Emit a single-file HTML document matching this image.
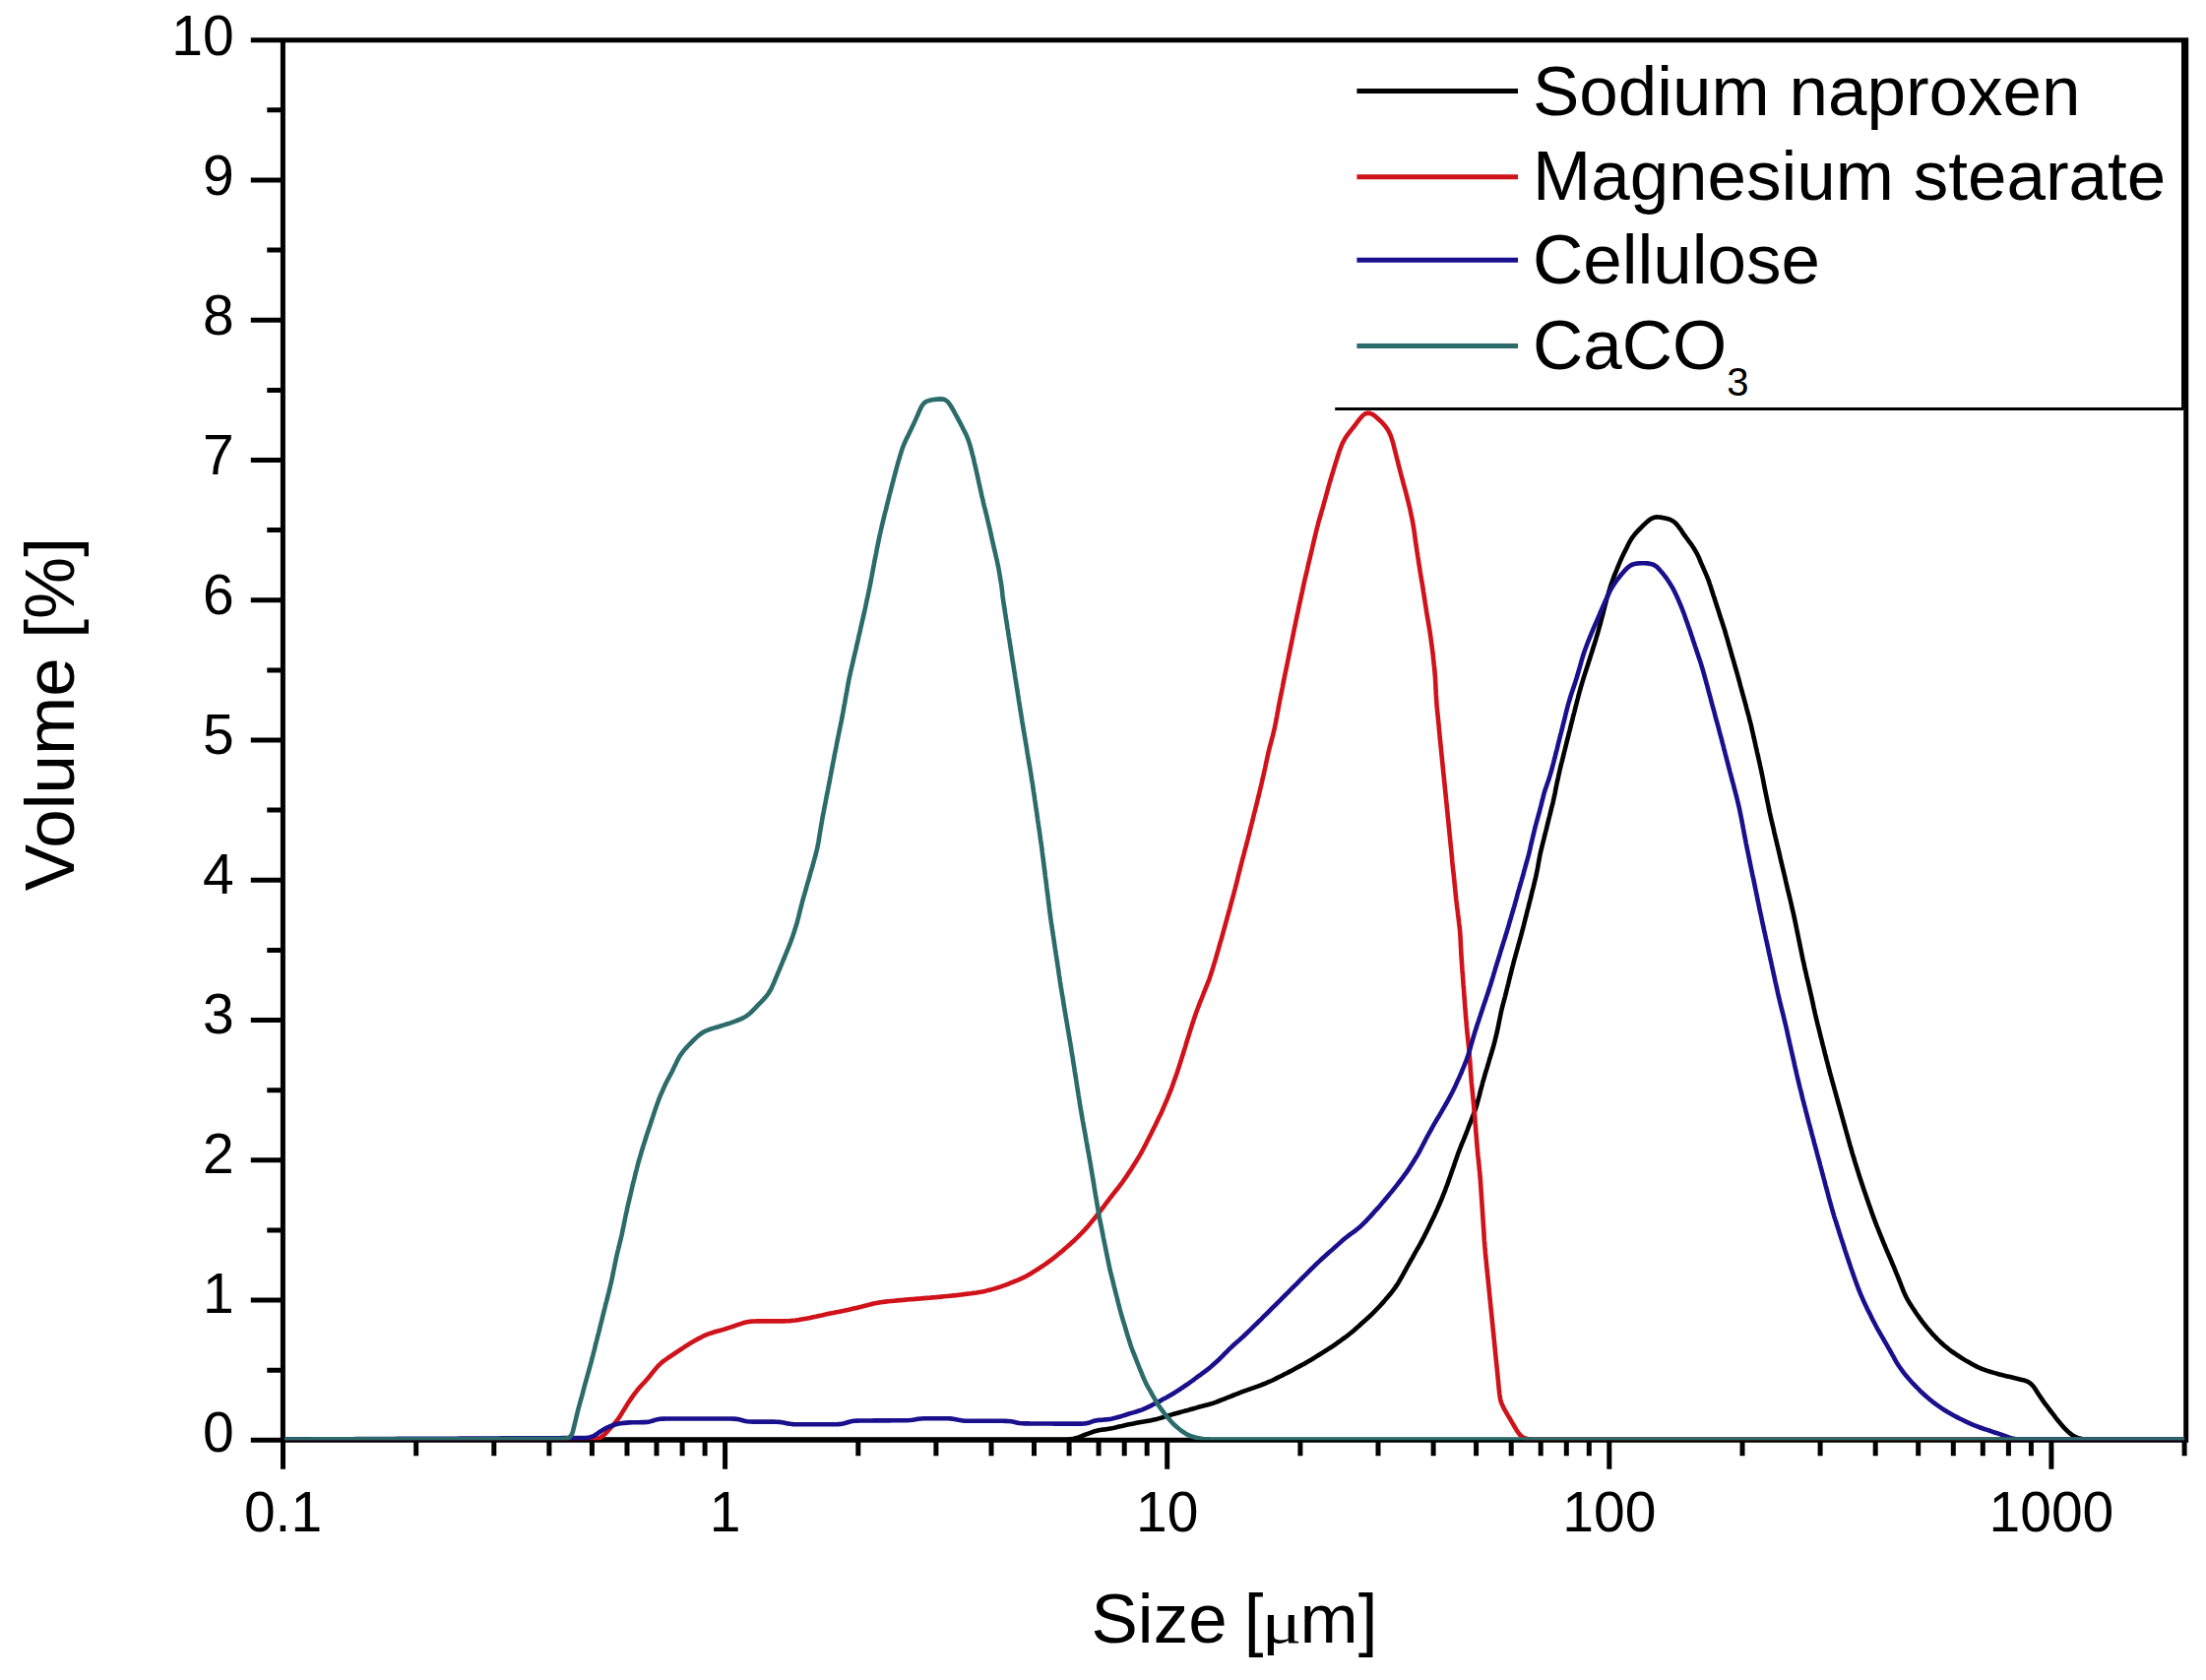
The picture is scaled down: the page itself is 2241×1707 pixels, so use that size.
<!DOCTYPE html><html><head><meta charset="utf-8"><title>Particle size distribution</title><style>html,body{margin:0;padding:0;background:#fff;overflow:hidden;width:2241px;height:1707px;}svg{display:block;}</style></head><body>
<svg width="2241" height="1707" viewBox="0 0 2241 1707">
<rect x="0" y="0" width="2241" height="1707" fill="#fff"/>
<defs><clipPath id="pa"><rect x="287.4" y="40.7" width="1933.3" height="1422.6"/></clipPath></defs>
<path d="M287.4,38.2V1465.7M284.9,1463.2H2223.2M284.9,40.7H2223.2M2220.7,38.2V1463.2M254.8,1463.3H287.4M254.8,1321.0H287.4M254.8,1178.8H287.4M254.8,1036.5H287.4M254.8,894.3H287.4M254.8,752.0H287.4M254.8,609.7H287.4M254.8,467.5H287.4M254.8,325.2H287.4M254.8,183.0H287.4M254.8,40.7H287.4M271.3,1392.2H287.4M271.3,1249.9H287.4M271.3,1107.7H287.4M271.3,965.4H287.4M271.3,823.1H287.4M271.3,680.9H287.4M271.3,538.6H287.4M271.3,396.4H287.4M271.3,254.1H287.4M271.3,111.8H287.4M287.5,1463.2V1492.8M422.7,1463.2V1479.2M501.8,1463.2V1479.2M557.9,1463.2V1479.2M601.4,1463.2V1479.2M637.0,1463.2V1479.2M667.0,1463.2V1479.2M693.1,1463.2V1479.2M716.1,1463.2V1479.2M736.6,1463.2V1492.8M871.8,1463.2V1479.2M950.9,1463.2V1479.2M1007.0,1463.2V1479.2M1050.5,1463.2V1479.2M1086.1,1463.2V1479.2M1116.1,1463.2V1479.2M1142.2,1463.2V1479.2M1165.2,1463.2V1479.2M1185.7,1463.2V1492.8M1320.9,1463.2V1479.2M1400.0,1463.2V1479.2M1456.1,1463.2V1479.2M1499.6,1463.2V1479.2M1535.2,1463.2V1479.2M1565.2,1463.2V1479.2M1591.3,1463.2V1479.2M1614.3,1463.2V1479.2M1634.8,1463.2V1492.8M1770.0,1463.2V1479.2M1849.1,1463.2V1479.2M1905.2,1463.2V1479.2M1948.7,1463.2V1479.2M1984.3,1463.2V1479.2M2014.3,1463.2V1479.2M2040.4,1463.2V1479.2M2063.4,1463.2V1479.2M2083.9,1463.2V1492.8M2219.1,1463.2V1479.2" stroke="#000" stroke-width="5.0" fill="none" stroke-linecap="butt"/>
<g clip-path="url(#pa)" fill="none" stroke-width="4.6" stroke-linejoin="round" stroke-linecap="butt">
<polyline points="289.0,1462.5 290.8,1462.5 293.3,1462.5 296.1,1462.5 299.0,1462.5 302.0,1462.5 305.0,1462.5 308.0,1462.5 311.0,1462.5 314.0,1462.5 317.0,1462.5 320.0,1462.5 323.0,1462.5 326.0,1462.5 329.0,1462.5 332.0,1462.5 335.0,1462.5 338.0,1462.5 341.0,1462.5 344.0,1462.5 347.0,1462.5 350.0,1462.5 353.0,1462.5 356.0,1462.5 359.0,1462.5 362.0,1462.5 365.0,1462.5 368.0,1462.5 371.0,1462.5 374.0,1462.5 377.0,1462.5 380.0,1462.5 383.0,1462.5 386.0,1462.5 389.0,1462.5 392.0,1462.5 395.0,1462.5 398.0,1462.5 401.0,1462.5 404.0,1462.5 407.0,1462.5 410.0,1462.5 413.0,1462.5 416.0,1462.5 419.0,1462.5 422.0,1462.5 425.0,1462.5 428.0,1462.5 431.0,1462.5 434.0,1462.5 437.0,1462.5 440.0,1462.5 443.0,1462.5 446.0,1462.5 449.0,1462.5 452.0,1462.5 455.0,1462.5 458.0,1462.5 461.0,1462.5 464.0,1462.5 467.0,1462.5 470.0,1462.5 473.0,1462.5 476.0,1462.5 479.0,1462.5 482.0,1462.5 485.0,1462.5 488.0,1462.5 491.0,1462.5 494.0,1462.5 497.0,1462.5 500.0,1462.5 503.0,1462.5 506.0,1462.5 509.0,1462.5 512.0,1462.5 515.0,1462.5 518.0,1462.5 521.0,1462.5 524.0,1462.5 527.0,1462.5 530.0,1462.5 533.0,1462.5 536.0,1462.5 539.0,1462.5 542.0,1462.5 545.0,1462.5 548.0,1462.5 551.0,1462.5 554.0,1462.5 557.0,1462.5 560.0,1462.5 563.0,1462.5 566.0,1462.5 569.0,1462.5 572.0,1462.5 575.0,1462.5 578.0,1462.5 581.0,1462.5 584.0,1462.5 587.0,1462.5 590.0,1462.5 593.0,1462.5 596.0,1462.5 599.0,1462.5 602.0,1462.5 605.0,1462.5 608.0,1462.5 611.0,1462.5 614.0,1462.5 617.0,1462.5 620.0,1462.5 623.0,1462.5 626.0,1462.5 629.0,1462.5 632.0,1462.5 635.0,1462.5 638.0,1462.5 641.0,1462.5 644.0,1462.5 647.0,1462.5 650.0,1462.5 653.0,1462.5 656.0,1462.5 659.0,1462.5 662.0,1462.5 665.0,1462.5 668.0,1462.5 671.0,1462.5 674.0,1462.5 677.0,1462.5 680.0,1462.5 683.0,1462.5 686.0,1462.5 689.0,1462.5 692.0,1462.5 695.0,1462.5 698.0,1462.5 701.0,1462.5 704.0,1462.5 707.0,1462.5 710.0,1462.5 713.0,1462.5 716.0,1462.5 719.0,1462.5 722.0,1462.5 725.0,1462.5 728.0,1462.5 731.0,1462.5 734.0,1462.5 737.0,1462.5 740.0,1462.5 743.0,1462.5 746.0,1462.5 749.0,1462.5 752.0,1462.5 755.0,1462.5 758.0,1462.5 761.0,1462.5 764.0,1462.5 767.0,1462.5 770.0,1462.5 773.0,1462.5 776.0,1462.5 779.0,1462.5 782.0,1462.5 785.0,1462.5 788.0,1462.5 791.0,1462.5 794.0,1462.5 797.0,1462.5 800.0,1462.5 803.0,1462.5 806.0,1462.5 809.0,1462.5 812.0,1462.5 815.0,1462.5 818.0,1462.5 821.0,1462.5 824.0,1462.5 827.0,1462.5 830.0,1462.5 833.0,1462.5 836.0,1462.5 839.0,1462.5 842.0,1462.5 845.0,1462.5 848.0,1462.5 851.0,1462.5 854.0,1462.5 857.0,1462.5 860.0,1462.5 863.0,1462.5 866.0,1462.5 869.0,1462.5 872.0,1462.5 875.0,1462.5 878.0,1462.5 881.0,1462.5 884.0,1462.5 887.0,1462.5 890.0,1462.5 893.0,1462.5 896.0,1462.5 899.0,1462.5 902.0,1462.5 905.0,1462.5 908.0,1462.5 911.0,1462.5 914.0,1462.5 917.0,1462.5 920.0,1462.5 923.0,1462.5 926.0,1462.5 929.0,1462.5 932.0,1462.5 935.0,1462.5 938.0,1462.5 941.0,1462.5 944.0,1462.5 947.0,1462.5 950.0,1462.5 953.0,1462.5 956.0,1462.5 959.0,1462.5 962.0,1462.5 965.0,1462.5 968.0,1462.5 971.0,1462.5 974.0,1462.5 977.0,1462.5 980.0,1462.5 983.0,1462.5 986.0,1462.5 989.0,1462.5 992.0,1462.5 995.0,1462.5 998.0,1462.5 1001.0,1462.5 1004.0,1462.5 1007.0,1462.5 1010.0,1462.5 1013.0,1462.5 1016.0,1462.5 1019.0,1462.5 1022.0,1462.5 1025.0,1462.5 1028.0,1462.5 1031.0,1462.5 1034.0,1462.5 1037.0,1462.5 1040.0,1462.5 1043.0,1462.5 1046.0,1462.5 1049.0,1462.5 1052.0,1462.5 1055.0,1462.5 1058.0,1462.5 1061.0,1462.5 1064.0,1462.5 1067.0,1462.5 1070.0,1462.5 1073.0,1462.5 1076.0,1462.5 1079.0,1462.5 1082.0,1462.5 1085.0,1462.4 1087.9,1462.2 1090.8,1461.8 1093.7,1461.1 1096.5,1460.2 1099.2,1459.0 1102.0,1457.9 1104.8,1456.8 1107.6,1455.8 1110.4,1454.8 1113.3,1454.0 1116.2,1453.3 1119.1,1452.8 1122.1,1452.4 1125.1,1451.9 1128.0,1451.4 1131.0,1450.9 1133.9,1450.3 1136.8,1449.6 1139.7,1449.0 1142.7,1448.3 1145.6,1447.6 1148.5,1447.0 1151.5,1446.4 1154.4,1445.8 1157.3,1445.2 1160.3,1444.7 1163.3,1444.2 1166.2,1443.7 1169.2,1443.2 1172.1,1442.6 1175.0,1441.9 1177.9,1441.1 1180.8,1440.3 1183.7,1439.4 1186.5,1438.5 1189.4,1437.6 1192.3,1436.8 1195.1,1436.0 1198.0,1435.2 1200.9,1434.4 1203.8,1433.6 1206.7,1432.9 1209.6,1432.0 1212.5,1431.2 1215.4,1430.4 1218.3,1429.5 1221.2,1428.8 1224.1,1428.0 1227.0,1427.3 1229.8,1426.5 1232.7,1425.6 1235.5,1424.6 1238.3,1423.5 1241.1,1422.4 1243.9,1421.3 1246.7,1420.2 1249.5,1419.1 1252.2,1418.0 1255.0,1416.9 1257.8,1415.8 1260.6,1414.7 1263.4,1413.7 1266.3,1412.7 1269.1,1411.7 1271.9,1410.7 1274.8,1409.7 1277.6,1408.7 1280.4,1407.6 1283.2,1406.5 1286.0,1405.4 1288.7,1404.2 1291.5,1403.0 1294.2,1401.7 1296.8,1400.4 1299.5,1399.0 1302.2,1397.7 1304.9,1396.3 1307.6,1395.0 1310.2,1393.6 1312.9,1392.2 1315.5,1390.8 1318.2,1389.3 1320.8,1387.9 1323.4,1386.5 1326.1,1385.1 1328.7,1383.6 1331.3,1382.1 1333.8,1380.5 1336.4,1378.9 1338.9,1377.3 1341.4,1375.7 1344.0,1374.1 1346.5,1372.5 1349.1,1370.9 1351.6,1369.3 1354.1,1367.7 1356.6,1366.0 1359.0,1364.2 1361.5,1362.5 1363.9,1360.7 1366.3,1359.0 1368.7,1357.2 1371.1,1355.3 1373.4,1353.4 1375.7,1351.5 1377.9,1349.5 1380.2,1347.6 1382.4,1345.5 1384.6,1343.5 1386.9,1341.5 1389.1,1339.5 1391.3,1337.5 1393.5,1335.4 1395.6,1333.3 1397.7,1331.2 1399.8,1329.0 1401.9,1326.8 1403.9,1324.6 1405.9,1322.4 1407.8,1320.1 1409.8,1317.8 1411.7,1315.5 1413.6,1313.2 1415.4,1310.8 1417.2,1308.4 1418.9,1305.9 1420.5,1303.4 1422.0,1300.8 1423.5,1298.3 1425.0,1295.6 1426.4,1293.0 1427.9,1290.4 1429.3,1287.7 1430.8,1285.1 1432.2,1282.5 1433.7,1279.9 1435.2,1277.3 1436.6,1274.7 1438.1,1272.0 1439.6,1269.4 1441.1,1266.8 1442.6,1264.2 1444.0,1261.6 1445.4,1258.9 1446.8,1256.3 1448.1,1253.6 1449.5,1250.9 1450.8,1248.2 1452.1,1245.5 1453.4,1242.8 1454.7,1240.1 1456.0,1237.4 1457.3,1234.7 1458.5,1232.0 1459.8,1229.2 1461.0,1226.5 1462.2,1223.8 1463.4,1221.0 1464.6,1218.2 1465.7,1215.4 1466.8,1212.7 1467.9,1209.9 1468.9,1207.1 1470.0,1204.2 1471.0,1201.4 1472.0,1198.6 1473.0,1195.8 1474.0,1192.9 1475.0,1190.1 1476.0,1187.3 1477.0,1184.4 1477.9,1181.6 1478.9,1178.8 1479.9,1175.9 1480.9,1173.1 1481.9,1170.3 1483.0,1167.5 1484.1,1164.7 1485.2,1161.9 1486.4,1159.1 1487.5,1156.4 1488.6,1153.6 1489.7,1150.8 1490.8,1148.0 1491.8,1145.2 1492.9,1142.4 1494.0,1139.6 1495.1,1136.8 1496.2,1134.0 1497.3,1131.2 1498.4,1128.4 1499.4,1125.6 1500.2,1122.7 1501.0,1119.9 1501.8,1117.0 1502.6,1114.0 1503.3,1111.1 1504.0,1108.2 1504.8,1105.3 1505.6,1102.4 1506.3,1099.5 1507.2,1096.7 1508.0,1093.8 1508.8,1090.9 1509.7,1088.0 1510.6,1085.1 1511.4,1082.3 1512.3,1079.4 1513.1,1076.5 1514.0,1073.6 1514.9,1070.8 1515.7,1067.9 1516.6,1065.0 1517.4,1062.1 1518.2,1059.2 1518.9,1056.3 1519.6,1053.4 1520.3,1050.5 1521.0,1047.6 1521.6,1044.7 1522.2,1041.7 1522.8,1038.8 1523.4,1035.8 1524.0,1032.9 1524.6,1029.9 1525.2,1027.0 1525.9,1024.1 1526.7,1021.2 1527.4,1018.3 1528.2,1015.4 1529.0,1012.5 1529.7,1009.6 1530.4,1006.7 1531.1,1003.8 1531.9,1000.9 1532.6,997.9 1533.3,995.0 1534.0,992.1 1534.8,989.2 1535.5,986.3 1536.2,983.4 1537.0,980.5 1537.7,977.6 1538.5,974.7 1539.3,971.8 1540.1,968.9 1540.9,966.0 1541.7,963.1 1542.5,960.2 1543.3,957.3 1544.1,954.4 1544.9,951.6 1545.7,948.7 1546.4,945.8 1547.2,942.9 1548.0,939.9 1548.7,937.0 1549.4,934.1 1550.2,931.2 1550.9,928.3 1551.6,925.4 1552.4,922.5 1553.1,919.6 1553.8,916.7 1554.6,913.8 1555.3,910.9 1556.0,907.9 1556.7,905.0 1557.5,902.1 1558.2,899.2 1558.9,896.3 1559.6,893.4 1560.3,890.5 1560.9,887.5 1561.5,884.6 1562.1,881.7 1562.6,878.7 1563.1,875.7 1563.7,872.8 1564.2,869.8 1564.8,866.9 1565.5,864.0 1566.2,861.1 1566.9,858.2 1567.6,855.3 1568.4,852.3 1569.1,849.4 1569.8,846.5 1570.6,843.6 1571.3,840.7 1572.0,837.8 1572.7,834.9 1573.4,832.0 1574.2,829.0 1574.9,826.1 1575.6,823.2 1576.3,820.3 1577.1,817.4 1577.8,814.5 1578.4,811.6 1579.1,808.6 1579.7,805.7 1580.2,802.8 1580.8,799.8 1581.4,796.9 1582.0,793.9 1582.7,791.0 1583.3,788.1 1584.0,785.1 1584.6,782.2 1585.3,779.3 1586.0,776.4 1586.8,773.5 1587.5,770.6 1588.2,767.7 1588.9,764.7 1589.7,761.8 1590.4,758.9 1591.1,756.0 1591.8,753.1 1592.6,750.2 1593.3,747.3 1594.0,744.4 1594.8,741.5 1595.5,738.6 1596.2,735.6 1597.0,732.7 1597.7,729.8 1598.4,726.9 1599.2,724.0 1599.9,721.1 1600.6,718.2 1601.4,715.3 1602.1,712.4 1602.9,709.5 1603.6,706.6 1604.4,703.7 1605.2,700.8 1606.0,697.9 1606.9,695.0 1607.7,692.1 1608.6,689.3 1609.5,686.4 1610.4,683.6 1611.3,680.7 1612.3,677.8 1613.2,675.0 1614.1,672.1 1615.0,669.3 1615.9,666.4 1616.8,663.6 1617.7,660.7 1618.6,657.8 1619.5,655.0 1620.4,652.1 1621.3,649.2 1622.1,646.4 1623.0,643.5 1623.8,640.6 1624.6,637.7 1625.4,634.8 1626.2,631.9 1626.9,629.0 1627.7,626.1 1628.5,623.2 1629.2,620.3 1629.9,617.4 1630.7,614.5 1631.4,611.6 1632.2,608.7 1633.0,605.8 1633.9,602.9 1634.7,600.1 1635.6,597.2 1636.5,594.3 1637.5,591.5 1638.5,588.7 1639.5,585.9 1640.6,583.1 1641.8,580.3 1642.9,577.5 1644.1,574.7 1645.2,572.0 1646.4,569.2 1647.6,566.5 1648.9,563.8 1650.2,561.1 1651.6,558.4 1652.9,555.7 1654.2,553.0 1655.6,550.4 1657.1,547.8 1658.8,545.4 1660.6,543.1 1662.6,540.8 1664.6,538.6 1666.7,536.5 1668.8,534.3 1671.0,532.3 1673.2,530.2 1675.4,528.4 1677.7,526.8 1680.2,525.8 1682.9,525.4 1685.7,525.5 1688.6,525.9 1691.5,526.5 1694.4,527.2 1697.1,528.2 1699.6,529.5 1701.8,531.2 1703.8,533.3 1705.6,535.7 1707.4,538.1 1709.0,540.6 1710.7,543.1 1712.5,545.5 1714.2,547.9 1716.0,550.3 1717.8,552.7 1719.5,555.2 1721.1,557.7 1722.6,560.3 1724.1,562.9 1725.4,565.6 1726.6,568.3 1727.7,571.1 1728.9,573.9 1730.1,576.6 1731.3,579.4 1732.5,582.1 1733.7,584.9 1734.8,587.6 1735.9,590.4 1736.8,593.3 1737.8,596.1 1738.7,599.0 1739.6,601.8 1740.5,604.7 1741.5,607.5 1742.4,610.4 1743.3,613.2 1744.2,616.1 1745.2,619.0 1746.1,621.8 1747.0,624.7 1747.9,627.5 1748.9,630.4 1749.8,633.2 1750.7,636.1 1751.6,638.9 1752.5,641.8 1753.3,644.7 1754.2,647.6 1755.0,650.5 1755.8,653.3 1756.6,656.2 1757.5,659.1 1758.3,662.0 1759.1,664.9 1759.9,667.8 1760.8,670.6 1761.6,673.5 1762.4,676.4 1763.2,679.3 1764.1,682.2 1764.9,685.1 1765.7,688.0 1766.5,690.9 1767.3,693.7 1768.0,696.6 1768.8,699.5 1769.6,702.4 1770.4,705.3 1771.2,708.2 1772.0,711.1 1772.8,714.0 1773.6,716.9 1774.3,719.8 1775.1,722.7 1775.9,725.6 1776.7,728.5 1777.4,731.4 1778.2,734.3 1778.9,737.2 1779.5,740.1 1780.2,743.1 1780.9,746.0 1781.5,748.9 1782.2,751.8 1782.9,754.8 1783.5,757.7 1784.2,760.6 1784.8,763.5 1785.5,766.5 1786.2,769.4 1786.8,772.3 1787.5,775.3 1788.1,778.2 1788.8,781.1 1789.4,784.1 1790.0,787.0 1790.6,789.9 1791.2,792.9 1791.7,795.8 1792.3,798.8 1792.9,801.7 1793.5,804.6 1794.1,807.6 1794.7,810.5 1795.3,813.5 1795.9,816.4 1796.5,819.3 1797.1,822.3 1797.7,825.2 1798.4,828.1 1799.0,831.1 1799.7,834.0 1800.4,836.9 1801.1,839.8 1801.8,842.8 1802.4,845.7 1803.1,848.6 1803.8,851.5 1804.5,854.4 1805.2,857.4 1805.9,860.3 1806.6,863.2 1807.3,866.1 1808.0,869.0 1808.6,872.0 1809.3,874.9 1810.0,877.8 1810.7,880.7 1811.4,883.6 1812.1,886.6 1812.8,889.5 1813.5,892.4 1814.1,895.3 1814.8,898.2 1815.5,901.2 1816.2,904.1 1816.9,907.0 1817.6,909.9 1818.3,912.8 1819.0,915.8 1819.7,918.7 1820.3,921.6 1821.0,924.5 1821.7,927.4 1822.3,930.4 1823.0,933.3 1823.6,936.2 1824.2,939.2 1824.8,942.1 1825.4,945.0 1826.0,948.0 1826.6,950.9 1827.2,953.9 1827.8,956.8 1828.4,959.7 1829.0,962.7 1829.6,965.6 1830.2,968.6 1830.8,971.5 1831.4,974.4 1832.1,977.4 1832.7,980.3 1833.3,983.2 1834.0,986.2 1834.7,989.1 1835.3,992.0 1836.0,994.9 1836.7,997.8 1837.4,1000.8 1838.1,1003.7 1838.7,1006.6 1839.4,1009.5 1840.1,1012.5 1840.7,1015.4 1841.4,1018.3 1842.0,1021.3 1842.6,1024.2 1843.3,1027.1 1843.9,1030.0 1844.6,1033.0 1845.3,1035.9 1846.0,1038.8 1846.7,1041.7 1847.5,1044.6 1848.2,1047.5 1848.9,1050.4 1849.6,1053.4 1850.4,1056.3 1851.1,1059.2 1851.8,1062.1 1852.6,1065.0 1853.3,1067.9 1854.0,1070.8 1854.8,1073.7 1855.5,1076.6 1856.3,1079.5 1857.0,1082.4 1857.8,1085.3 1858.5,1088.2 1859.3,1091.1 1860.1,1094.0 1860.9,1096.9 1861.7,1099.8 1862.5,1102.7 1863.3,1105.6 1864.1,1108.5 1864.9,1111.4 1865.7,1114.3 1866.5,1117.2 1867.3,1120.1 1868.1,1122.9 1868.9,1125.8 1869.7,1128.7 1870.5,1131.6 1871.3,1134.5 1872.1,1137.4 1872.9,1140.3 1873.7,1143.2 1874.5,1146.1 1875.3,1149.0 1876.1,1151.9 1876.9,1154.7 1877.7,1157.6 1878.5,1160.5 1879.3,1163.4 1880.2,1166.3 1881.0,1169.2 1881.8,1172.1 1882.7,1174.9 1883.6,1177.8 1884.4,1180.7 1885.3,1183.5 1886.2,1186.4 1887.1,1189.3 1888.0,1192.1 1888.9,1195.0 1889.8,1197.8 1890.8,1200.7 1891.7,1203.5 1892.7,1206.4 1893.6,1209.2 1894.6,1212.1 1895.6,1214.9 1896.5,1217.7 1897.5,1220.6 1898.5,1223.4 1899.5,1226.2 1900.5,1229.1 1901.5,1231.9 1902.5,1234.7 1903.5,1237.5 1904.6,1240.4 1905.6,1243.2 1906.7,1246.0 1907.8,1248.7 1908.9,1251.5 1910.1,1254.3 1911.2,1257.1 1912.3,1259.9 1913.4,1262.7 1914.6,1265.4 1915.7,1268.2 1916.9,1271.0 1918.1,1273.7 1919.3,1276.5 1920.5,1279.2 1921.6,1282.0 1922.8,1284.8 1924.0,1287.5 1925.1,1290.3 1926.2,1293.1 1927.4,1295.9 1928.5,1298.6 1929.6,1301.4 1930.7,1304.2 1931.8,1307.0 1932.9,1309.8 1934.0,1312.6 1935.2,1315.3 1936.5,1318.0 1937.9,1320.6 1939.4,1323.2 1941.0,1325.7 1942.6,1328.3 1944.3,1330.8 1945.9,1333.3 1947.6,1335.8 1949.3,1338.2 1951.1,1340.7 1952.9,1343.1 1954.7,1345.4 1956.6,1347.8 1958.5,1350.1 1960.5,1352.3 1962.4,1354.6 1964.5,1356.8 1966.5,1359.0 1968.6,1361.1 1970.8,1363.2 1973.0,1365.2 1975.2,1367.2 1977.5,1369.1 1979.9,1371.0 1982.3,1372.8 1984.7,1374.5 1987.2,1376.2 1989.7,1377.8 1992.2,1379.5 1994.8,1381.1 1997.3,1382.6 1999.9,1384.1 2002.5,1385.6 2005.2,1387.0 2007.8,1388.4 2010.5,1389.7 2013.3,1390.8 2016.1,1391.9 2018.9,1392.9 2021.8,1393.8 2024.6,1394.6 2027.5,1395.4 2030.4,1396.2 2033.3,1396.9 2036.3,1397.7 2039.2,1398.4 2042.1,1399.1 2045.0,1399.8 2047.9,1400.5 2050.8,1401.2 2053.7,1401.9 2056.6,1402.6 2059.3,1403.6 2061.8,1405.0 2063.9,1406.8 2065.9,1409.0 2067.6,1411.4 2069.2,1413.9 2070.8,1416.4 2072.4,1418.9 2074.1,1421.4 2075.8,1423.8 2077.6,1426.3 2079.4,1428.7 2081.2,1431.1 2083.0,1433.5 2084.8,1435.9 2086.6,1438.2 2088.4,1440.6 2090.3,1443.0 2092.2,1445.3 2094.1,1447.6 2096.1,1449.9 2098.1,1452.0 2100.3,1454.1 2102.5,1456.1 2104.8,1457.9 2107.3,1459.5 2109.9,1460.7 2112.7,1461.6 2115.6,1462.2 2118.5,1462.4 2121.5,1462.5 2124.5,1462.5 2127.5,1462.5 2130.5,1462.5 2133.5,1462.5 2136.5,1462.5 2139.5,1462.5 2142.5,1462.5 2145.5,1462.5 2148.5,1462.5 2151.5,1462.5 2154.5,1462.5 2157.5,1462.5 2160.5,1462.5 2163.5,1462.5 2166.5,1462.5 2169.5,1462.5 2172.5,1462.5 2175.5,1462.5 2178.5,1462.5 2181.5,1462.5 2184.5,1462.5 2187.5,1462.5 2190.5,1462.5 2193.5,1462.5 2196.5,1462.5 2199.5,1462.5 2202.5,1462.5 2205.5,1462.5 2208.5,1462.5 2211.4,1462.5 2214.3,1462.5 2216.8,1462.5 2218.7,1462.5 2219.2,1462.5" stroke="#000000"/>
<polyline points="289.0,1462.5 290.8,1462.5 293.3,1462.5 296.1,1462.5 299.0,1462.5 302.0,1462.5 305.0,1462.5 308.0,1462.5 311.0,1462.5 314.0,1462.5 317.0,1462.5 320.0,1462.5 323.0,1462.5 326.0,1462.5 329.0,1462.5 332.0,1462.5 335.0,1462.5 338.0,1462.5 341.0,1462.5 344.0,1462.5 347.0,1462.5 350.0,1462.5 353.0,1462.5 356.0,1462.5 359.0,1462.5 362.0,1462.5 365.0,1462.5 368.0,1462.5 371.0,1462.5 374.0,1462.5 377.0,1462.5 380.0,1462.5 383.0,1462.5 386.0,1462.5 389.0,1462.5 392.0,1462.5 395.0,1462.5 398.0,1462.5 401.0,1462.5 404.0,1462.5 407.0,1462.5 410.0,1462.5 413.0,1462.5 416.0,1462.5 419.0,1462.5 422.0,1462.5 425.0,1462.5 428.0,1462.5 431.0,1462.5 434.0,1462.5 437.0,1462.5 440.0,1462.5 443.0,1462.5 446.0,1462.5 449.0,1462.5 452.0,1462.5 455.0,1462.5 458.0,1462.5 461.0,1462.5 464.0,1462.5 467.0,1462.5 470.0,1462.5 473.0,1462.5 476.0,1462.5 479.0,1462.5 482.0,1462.5 485.0,1462.5 488.0,1462.5 491.0,1462.5 494.0,1462.5 497.0,1462.5 500.0,1462.5 503.0,1462.5 506.0,1462.5 509.0,1462.5 512.0,1462.5 515.0,1462.5 518.0,1462.5 521.0,1462.5 524.0,1462.5 527.0,1462.5 530.0,1462.5 533.0,1462.5 536.0,1462.5 539.0,1462.5 542.0,1462.5 545.0,1462.5 548.0,1462.5 551.0,1462.5 554.0,1462.5 557.0,1462.5 560.0,1462.5 563.0,1462.5 566.0,1462.5 569.0,1462.5 572.0,1462.5 575.0,1462.5 578.0,1462.5 581.0,1462.5 584.0,1462.5 587.0,1462.5 590.0,1462.5 593.0,1462.5 596.0,1462.5 599.0,1462.5 602.0,1462.4 604.9,1462.2 607.6,1461.6 610.1,1460.6 612.4,1459.0 614.5,1457.1 616.6,1454.9 618.6,1452.7 620.6,1450.5 622.6,1448.2 624.5,1446.0 626.4,1443.7 628.2,1441.3 629.9,1438.9 631.5,1436.3 633.0,1433.7 634.6,1431.2 636.2,1428.6 637.8,1426.1 639.4,1423.6 641.1,1421.1 642.8,1418.7 644.6,1416.2 646.4,1413.8 648.2,1411.5 650.2,1409.2 652.2,1407.0 654.3,1404.8 656.3,1402.6 658.2,1400.4 660.2,1398.0 662.0,1395.7 663.9,1393.4 665.8,1391.0 667.8,1388.8 669.8,1386.6 672.0,1384.6 674.3,1382.8 676.8,1381.0 679.2,1379.3 681.7,1377.7 684.2,1376.0 686.7,1374.3 689.2,1372.7 691.7,1371.0 694.2,1369.4 696.7,1367.7 699.2,1366.1 701.8,1364.5 704.4,1363.0 707.0,1361.5 709.6,1360.1 712.3,1358.7 714.9,1357.3 717.7,1356.1 720.4,1355.1 723.3,1354.2 726.2,1353.3 729.0,1352.5 731.9,1351.7 734.8,1350.9 737.7,1350.0 740.5,1349.1 743.4,1348.1 746.2,1347.2 749.1,1346.2 751.9,1345.3 754.7,1344.3 757.6,1343.6 760.5,1343.0 763.5,1342.6 766.4,1342.5 769.4,1342.4 772.4,1342.4 775.4,1342.4 778.4,1342.4 781.4,1342.4 784.4,1342.4 787.4,1342.4 790.4,1342.4 793.4,1342.4 796.4,1342.4 799.4,1342.3 802.4,1342.1 805.4,1341.8 808.4,1341.5 811.3,1341.1 814.3,1340.6 817.2,1340.1 820.2,1339.6 823.1,1339.0 826.1,1338.3 829.0,1337.7 831.9,1337.0 834.8,1336.4 837.8,1335.7 840.7,1335.1 843.6,1334.5 846.6,1333.9 849.5,1333.3 852.5,1332.8 855.4,1332.2 858.4,1331.6 861.3,1330.9 864.2,1330.3 867.1,1329.6 870.1,1328.9 873.0,1328.2 875.9,1327.5 878.8,1326.7 881.7,1326.0 884.6,1325.3 887.5,1324.6 890.4,1324.0 893.4,1323.4 896.4,1323.0 899.3,1322.6 902.3,1322.3 905.3,1322.0 908.3,1321.7 911.3,1321.4 914.3,1321.1 917.2,1320.9 920.2,1320.6 923.2,1320.3 926.2,1320.1 929.2,1319.9 932.2,1319.6 935.2,1319.4 938.2,1319.1 941.2,1318.9 944.1,1318.7 947.1,1318.4 950.1,1318.2 953.1,1317.9 956.1,1317.6 959.1,1317.3 962.1,1317.0 965.1,1316.7 968.0,1316.4 971.0,1316.1 974.0,1315.7 977.0,1315.4 980.0,1315.0 982.9,1314.6 985.9,1314.3 988.9,1313.9 991.9,1313.5 994.8,1313.0 997.8,1312.5 1000.7,1311.9 1003.6,1311.1 1006.5,1310.4 1009.4,1309.6 1012.3,1308.8 1015.1,1307.9 1018.0,1306.9 1020.8,1305.9 1023.6,1304.8 1026.4,1303.7 1029.1,1302.6 1031.9,1301.5 1034.7,1300.3 1037.4,1299.1 1040.2,1297.9 1042.8,1296.5 1045.4,1295.0 1048.0,1293.5 1050.5,1291.9 1053.1,1290.3 1055.6,1288.7 1058.1,1287.0 1060.6,1285.4 1063.1,1283.7 1065.5,1281.9 1067.9,1280.1 1070.3,1278.3 1072.6,1276.4 1074.9,1274.5 1077.3,1272.6 1079.6,1270.7 1081.8,1268.7 1084.1,1266.8 1086.4,1264.8 1088.6,1262.8 1090.8,1260.8 1093.0,1258.7 1095.1,1256.6 1097.2,1254.5 1099.3,1252.3 1101.4,1250.1 1103.4,1247.9 1105.4,1245.7 1107.3,1243.4 1109.2,1241.1 1111.2,1238.8 1113.1,1236.5 1114.9,1234.1 1116.8,1231.8 1118.6,1229.4 1120.4,1227.0 1122.2,1224.6 1124.0,1222.2 1125.8,1219.8 1127.6,1217.4 1129.5,1215.0 1131.3,1212.7 1133.2,1210.3 1135.0,1208.0 1136.9,1205.6 1138.7,1203.2 1140.5,1200.8 1142.2,1198.3 1143.9,1195.9 1145.5,1193.4 1147.2,1190.9 1148.9,1188.4 1150.5,1185.8 1152.1,1183.3 1153.7,1180.8 1155.2,1178.2 1156.8,1175.6 1158.3,1173.1 1159.8,1170.5 1161.2,1167.8 1162.6,1165.2 1164.0,1162.5 1165.3,1159.8 1166.7,1157.1 1168.0,1154.4 1169.4,1151.8 1170.7,1149.1 1172.0,1146.4 1173.4,1143.7 1174.7,1141.0 1176.0,1138.3 1177.3,1135.6 1178.6,1132.9 1179.9,1130.2 1181.1,1127.5 1182.3,1124.7 1183.5,1121.9 1184.7,1119.2 1185.9,1116.4 1187.0,1113.7 1188.1,1110.9 1189.2,1108.1 1190.3,1105.3 1191.3,1102.5 1192.3,1099.6 1193.3,1096.8 1194.3,1094.0 1195.3,1091.2 1196.3,1088.3 1197.2,1085.5 1198.1,1082.6 1199.0,1079.8 1199.9,1076.9 1200.8,1074.0 1201.7,1071.2 1202.6,1068.3 1203.5,1065.4 1204.4,1062.6 1205.2,1059.7 1206.1,1056.8 1207.0,1054.0 1207.9,1051.1 1208.8,1048.2 1209.7,1045.4 1210.6,1042.5 1211.5,1039.7 1212.5,1036.8 1213.4,1034.0 1214.4,1031.1 1215.4,1028.3 1216.4,1025.5 1217.5,1022.7 1218.5,1019.9 1219.6,1017.1 1220.8,1014.3 1221.9,1011.5 1223.0,1008.7 1224.1,1005.9 1225.2,1003.2 1226.3,1000.4 1227.4,997.6 1228.5,994.8 1229.4,991.9 1230.4,989.1 1231.3,986.2 1232.2,983.4 1233.0,980.5 1233.9,977.6 1234.8,974.7 1235.6,971.9 1236.4,969.0 1237.3,966.1 1238.1,963.2 1238.9,960.3 1239.7,957.4 1240.6,954.6 1241.4,951.7 1242.2,948.8 1243.0,945.9 1243.8,943.0 1244.6,940.1 1245.4,937.2 1246.2,934.3 1247.0,931.4 1247.8,928.5 1248.6,925.6 1249.4,922.8 1250.1,919.9 1250.9,917.0 1251.7,914.1 1252.5,911.2 1253.3,908.3 1254.0,905.4 1254.8,902.5 1255.5,899.6 1256.3,896.6 1257.0,893.7 1257.7,890.8 1258.4,887.9 1259.2,885.0 1259.9,882.1 1260.6,879.2 1261.4,876.3 1262.1,873.4 1262.9,870.5 1263.7,867.6 1264.4,864.7 1265.2,861.8 1266.0,858.9 1266.7,856.0 1267.5,853.1 1268.2,850.2 1269.0,847.3 1269.7,844.3 1270.4,841.4 1271.1,838.5 1271.9,835.6 1272.6,832.7 1273.3,829.8 1274.0,826.9 1274.8,824.0 1275.5,821.1 1276.3,818.2 1277.0,815.2 1277.7,812.3 1278.4,809.4 1279.1,806.5 1279.8,803.6 1280.5,800.7 1281.2,797.7 1281.9,794.8 1282.5,791.9 1283.2,789.0 1283.9,786.1 1284.5,783.1 1285.2,780.2 1285.8,777.3 1286.4,774.3 1287.1,771.4 1287.7,768.5 1288.3,765.5 1289.0,762.6 1289.7,759.7 1290.5,756.8 1291.3,753.9 1292.0,751.0 1292.8,748.1 1293.5,745.2 1294.2,742.3 1294.9,739.4 1295.5,736.4 1296.1,733.5 1296.6,730.5 1297.2,727.6 1297.7,724.6 1298.3,721.7 1298.8,718.7 1299.4,715.8 1299.9,712.8 1300.5,709.9 1301.1,706.9 1301.7,704.0 1302.3,701.1 1302.9,698.1 1303.4,695.2 1304.0,692.2 1304.6,689.3 1305.2,686.3 1305.8,683.4 1306.4,680.5 1307.0,677.5 1307.6,674.6 1308.2,671.6 1308.8,668.7 1309.4,665.8 1310.0,662.8 1310.6,659.9 1311.2,656.9 1311.8,654.0 1312.4,651.1 1313.0,648.1 1313.6,645.2 1314.2,642.3 1314.8,639.3 1315.4,636.4 1316.0,633.4 1316.6,630.5 1317.2,627.6 1317.8,624.6 1318.5,621.7 1319.1,618.8 1319.7,615.8 1320.3,612.9 1321.0,610.0 1321.6,607.0 1322.2,604.1 1322.9,601.2 1323.5,598.2 1324.1,595.3 1324.8,592.4 1325.4,589.4 1326.1,586.5 1326.8,583.6 1327.5,580.7 1328.2,577.8 1328.8,574.8 1329.5,571.9 1330.2,569.0 1330.9,566.1 1331.6,563.1 1332.3,560.2 1333.0,557.3 1333.6,554.4 1334.3,551.5 1335.0,548.5 1335.7,545.6 1336.4,542.7 1337.1,539.8 1337.8,536.9 1338.6,534.0 1339.3,531.1 1340.1,528.2 1341.0,525.3 1341.8,522.4 1342.6,519.5 1343.5,516.7 1344.3,513.8 1345.1,510.9 1345.9,508.0 1346.7,505.1 1347.5,502.2 1348.3,499.3 1349.1,496.4 1349.9,493.5 1350.7,490.7 1351.6,487.8 1352.4,484.9 1353.3,482.0 1354.2,479.2 1355.0,476.3 1355.9,473.4 1356.8,470.5 1357.7,467.7 1358.6,464.8 1359.5,462.0 1360.4,459.1 1361.4,456.3 1362.5,453.5 1363.6,450.7 1365.0,448.1 1366.4,445.5 1368.0,443.0 1369.8,440.6 1371.6,438.2 1373.5,435.9 1375.4,433.5 1377.2,431.1 1379.0,428.7 1380.8,426.3 1382.6,424.1 1384.6,422.0 1386.7,420.5 1389.1,419.7 1391.5,419.9 1393.9,420.8 1396.2,422.3 1398.5,424.2 1400.7,426.2 1402.9,428.2 1405.0,430.4 1406.9,432.6 1408.7,435.0 1410.3,437.5 1411.6,440.1 1412.8,442.8 1413.8,445.7 1414.7,448.5 1415.5,451.4 1416.2,454.3 1416.9,457.2 1417.7,460.1 1418.4,463.0 1419.1,465.9 1419.9,468.8 1420.6,471.8 1421.3,474.7 1422.1,477.6 1422.8,480.5 1423.6,483.4 1424.4,486.3 1425.2,489.2 1425.9,492.1 1426.7,495.0 1427.5,497.8 1428.3,500.7 1429.0,503.7 1429.8,506.6 1430.5,509.5 1431.2,512.4 1431.9,515.3 1432.6,518.2 1433.2,521.2 1433.8,524.1 1434.4,527.0 1435.0,530.0 1435.5,532.9 1436.0,535.9 1436.5,538.9 1436.9,541.8 1437.3,544.8 1437.7,547.8 1438.1,550.7 1438.5,553.7 1439.0,556.7 1439.4,559.6 1439.9,562.6 1440.3,565.6 1440.8,568.5 1441.2,571.5 1441.7,574.5 1442.2,577.4 1442.6,580.4 1443.1,583.4 1443.6,586.3 1444.1,589.3 1444.6,592.2 1445.1,595.2 1445.6,598.2 1446.0,601.1 1446.5,604.1 1446.9,607.0 1447.4,610.0 1447.8,613.0 1448.3,615.9 1448.8,618.9 1449.2,621.9 1449.7,624.8 1450.2,627.8 1450.7,630.7 1451.2,633.7 1451.7,636.7 1452.2,639.6 1452.7,642.6 1453.1,645.6 1453.5,648.5 1453.9,651.5 1454.3,654.5 1454.7,657.4 1455.1,660.4 1455.5,663.4 1455.8,666.4 1456.1,669.4 1456.4,672.3 1456.7,675.3 1457.1,678.3 1457.4,681.3 1457.6,684.3 1457.9,687.3 1458.1,690.3 1458.2,693.3 1458.4,696.3 1458.5,699.3 1458.7,702.2 1458.8,705.2 1459.0,708.2 1459.2,711.2 1459.4,714.2 1459.6,717.2 1459.9,720.2 1460.2,723.2 1460.5,726.2 1460.8,729.2 1461.1,732.1 1461.4,735.1 1461.7,738.1 1461.9,741.1 1462.2,744.1 1462.5,747.1 1462.8,750.1 1463.1,753.0 1463.4,756.0 1463.7,759.0 1464.0,762.0 1464.3,765.0 1464.6,768.0 1464.9,771.0 1465.2,773.9 1465.5,776.9 1465.8,779.9 1466.1,782.9 1466.4,785.9 1466.7,788.9 1467.0,791.8 1467.3,794.8 1467.6,797.8 1467.9,800.8 1468.2,803.8 1468.5,806.8 1468.8,809.8 1469.1,812.7 1469.4,815.7 1469.7,818.7 1470.0,821.7 1470.3,824.7 1470.6,827.7 1470.9,830.7 1471.2,833.6 1471.5,836.6 1471.8,839.6 1472.1,842.6 1472.4,845.6 1472.7,848.6 1473.0,851.6 1473.3,854.5 1473.6,857.5 1473.9,860.5 1474.2,863.5 1474.5,866.5 1474.8,869.5 1475.1,872.4 1475.3,875.4 1475.6,878.4 1475.9,881.4 1476.2,884.4 1476.6,887.4 1476.9,890.4 1477.2,893.3 1477.5,896.3 1477.8,899.3 1478.1,902.3 1478.4,905.3 1478.7,908.3 1479.0,911.2 1479.3,914.2 1479.7,917.2 1480.0,920.2 1480.4,923.2 1480.8,926.1 1481.1,929.1 1481.5,932.1 1481.9,935.1 1482.2,938.1 1482.6,941.0 1482.9,944.0 1483.2,947.0 1483.4,950.0 1483.6,953.0 1483.7,956.0 1483.9,959.0 1484.0,962.0 1484.2,965.0 1484.3,968.0 1484.5,971.0 1484.7,974.0 1484.9,976.9 1485.1,979.9 1485.3,982.9 1485.5,985.9 1485.8,988.9 1486.0,991.9 1486.2,994.9 1486.4,997.9 1486.6,1000.9 1486.9,1003.9 1487.1,1006.9 1487.3,1009.9 1487.5,1012.8 1487.8,1015.8 1488.0,1018.8 1488.2,1021.8 1488.4,1024.8 1488.7,1027.8 1488.9,1030.8 1489.1,1033.8 1489.4,1036.8 1489.7,1039.8 1489.9,1042.7 1490.2,1045.7 1490.5,1048.7 1490.8,1051.7 1491.1,1054.7 1491.4,1057.7 1491.7,1060.7 1492.0,1063.6 1492.3,1066.6 1492.5,1069.6 1492.8,1072.6 1493.0,1075.6 1493.2,1078.6 1493.5,1081.6 1493.7,1084.6 1493.9,1087.6 1494.1,1090.6 1494.4,1093.6 1494.6,1096.5 1494.8,1099.5 1495.1,1102.5 1495.4,1105.5 1495.7,1108.5 1496.0,1111.5 1496.3,1114.5 1496.6,1117.5 1496.9,1120.4 1497.2,1123.4 1497.4,1126.4 1497.7,1129.4 1498.0,1132.4 1498.3,1135.4 1498.5,1138.4 1498.7,1141.4 1499.0,1144.3 1499.2,1147.3 1499.4,1150.3 1499.6,1153.3 1499.9,1156.3 1500.1,1159.3 1500.3,1162.3 1500.6,1165.3 1500.9,1168.3 1501.1,1171.3 1501.4,1174.2 1501.8,1177.2 1502.1,1180.2 1502.4,1183.2 1502.7,1186.2 1503.0,1189.2 1503.3,1192.1 1503.5,1195.1 1503.8,1198.1 1504.0,1201.1 1504.2,1204.1 1504.4,1207.1 1504.6,1210.1 1504.8,1213.1 1505.0,1216.1 1505.2,1219.1 1505.4,1222.1 1505.6,1225.1 1505.8,1228.1 1506.0,1231.0 1506.2,1234.0 1506.4,1237.0 1506.6,1240.0 1506.8,1243.0 1507.0,1246.0 1507.2,1249.0 1507.4,1252.0 1507.5,1255.0 1507.7,1258.0 1507.9,1261.0 1508.2,1264.0 1508.4,1267.0 1508.7,1270.0 1508.9,1272.9 1509.2,1275.9 1509.5,1278.9 1509.8,1281.9 1510.1,1284.9 1510.4,1287.9 1510.7,1290.9 1511.0,1293.8 1511.3,1296.8 1511.6,1299.8 1511.9,1302.8 1512.2,1305.8 1512.5,1308.8 1512.8,1311.7 1513.1,1314.7 1513.4,1317.7 1513.7,1320.7 1514.0,1323.7 1514.3,1326.7 1514.6,1329.7 1514.9,1332.6 1515.2,1335.6 1515.5,1338.6 1515.8,1341.6 1516.1,1344.6 1516.4,1347.6 1516.7,1350.6 1517.0,1353.5 1517.3,1356.5 1517.6,1359.5 1517.9,1362.5 1518.2,1365.5 1518.5,1368.5 1518.8,1371.4 1519.1,1374.4 1519.4,1377.4 1519.7,1380.4 1520.0,1383.4 1520.3,1386.4 1520.6,1389.4 1520.9,1392.3 1521.2,1395.3 1521.5,1398.3 1521.8,1401.3 1522.1,1404.3 1522.4,1407.3 1522.6,1410.3 1523.0,1413.2 1523.3,1416.2 1523.7,1419.2 1524.2,1422.1 1525.0,1424.9 1526.1,1427.6 1527.4,1430.3 1528.8,1432.9 1530.3,1435.5 1531.8,1438.1 1533.4,1440.7 1534.9,1443.3 1536.4,1445.9 1537.9,1448.5 1539.4,1451.0 1540.9,1453.6 1542.6,1456.0 1544.4,1458.2 1546.5,1460.0 1548.9,1461.2 1551.6,1462.0 1554.5,1462.3 1557.5,1462.5 1560.5,1462.5 1563.5,1462.5 1566.5,1462.5 1569.5,1462.5 1572.5,1462.5 1575.5,1462.5 1578.5,1462.5 1581.5,1462.5 1584.5,1462.5 1587.5,1462.5 1590.5,1462.5 1593.5,1462.5 1596.5,1462.5 1599.5,1462.5 1602.5,1462.5 1605.5,1462.5 1608.5,1462.5 1611.5,1462.5 1614.5,1462.5 1617.5,1462.5 1620.5,1462.5 1623.5,1462.5 1626.5,1462.5 1629.5,1462.5 1632.5,1462.5 1635.5,1462.5 1638.5,1462.5 1641.5,1462.5 1644.5,1462.5 1647.5,1462.5 1650.5,1462.5 1653.5,1462.5 1656.5,1462.5 1659.5,1462.5 1662.5,1462.5 1665.5,1462.5 1668.5,1462.5 1671.5,1462.5 1674.5,1462.5 1677.5,1462.5 1680.5,1462.5 1683.5,1462.5 1686.5,1462.5 1689.5,1462.5 1692.5,1462.5 1695.5,1462.5 1698.5,1462.5 1701.5,1462.5 1704.5,1462.5 1707.5,1462.5 1710.5,1462.5 1713.5,1462.5 1716.5,1462.5 1719.5,1462.5 1722.5,1462.5 1725.5,1462.5 1728.5,1462.5 1731.5,1462.5 1734.5,1462.5 1737.5,1462.5 1740.5,1462.5 1743.5,1462.5 1746.5,1462.5 1749.5,1462.5 1752.5,1462.5 1755.5,1462.5 1758.5,1462.5 1761.5,1462.5 1764.5,1462.5 1767.5,1462.5 1770.5,1462.5 1773.5,1462.5 1776.5,1462.5 1779.5,1462.5 1782.5,1462.5 1785.5,1462.5 1788.5,1462.5 1791.5,1462.5 1794.5,1462.5 1797.5,1462.5 1800.5,1462.5 1803.5,1462.5 1806.5,1462.5 1809.5,1462.5 1812.5,1462.5 1815.5,1462.5 1818.5,1462.5 1821.5,1462.5 1824.5,1462.5 1827.5,1462.5 1830.5,1462.5 1833.5,1462.5 1836.5,1462.5 1839.5,1462.5 1842.5,1462.5 1845.5,1462.5 1848.5,1462.5 1851.5,1462.5 1854.5,1462.5 1857.5,1462.5 1860.5,1462.5 1863.5,1462.5 1866.5,1462.5 1869.5,1462.5 1872.5,1462.5 1875.5,1462.5 1878.5,1462.5 1881.5,1462.5 1884.5,1462.5 1887.5,1462.5 1890.5,1462.5 1893.5,1462.5 1896.5,1462.5 1899.5,1462.5 1902.5,1462.5 1905.5,1462.5 1908.5,1462.5 1911.5,1462.5 1914.5,1462.5 1917.5,1462.5 1920.5,1462.5 1923.5,1462.5 1926.5,1462.5 1929.5,1462.5 1932.5,1462.5 1935.5,1462.5 1938.5,1462.5 1941.5,1462.5 1944.5,1462.5 1947.5,1462.5 1950.5,1462.5 1953.5,1462.5 1956.5,1462.5 1959.5,1462.5 1962.5,1462.5 1965.5,1462.5 1968.5,1462.5 1971.5,1462.5 1974.5,1462.5 1977.5,1462.5 1980.5,1462.5 1983.5,1462.5 1986.5,1462.5 1989.5,1462.5 1992.5,1462.5 1995.5,1462.5 1998.5,1462.5 2001.5,1462.5 2004.5,1462.5 2007.5,1462.5 2010.5,1462.5 2013.5,1462.5 2016.5,1462.5 2019.5,1462.5 2022.5,1462.5 2025.5,1462.5 2028.5,1462.5 2031.5,1462.5 2034.5,1462.5 2037.5,1462.5 2040.5,1462.5 2043.5,1462.5 2046.5,1462.5 2049.5,1462.5 2052.5,1462.5 2055.5,1462.5 2058.5,1462.5 2061.5,1462.5 2064.5,1462.5 2067.5,1462.5 2070.5,1462.5 2073.5,1462.5 2076.5,1462.5 2079.5,1462.5 2082.5,1462.5 2085.5,1462.5 2088.5,1462.5 2091.5,1462.5 2094.5,1462.5 2097.5,1462.5 2100.5,1462.5 2103.5,1462.5 2106.5,1462.5 2109.5,1462.5 2112.5,1462.5 2115.5,1462.5 2118.5,1462.5 2121.5,1462.5 2124.5,1462.5 2127.5,1462.5 2130.5,1462.5 2133.5,1462.5 2136.5,1462.5 2139.5,1462.5 2142.5,1462.5 2145.5,1462.5 2148.5,1462.5 2151.5,1462.5 2154.5,1462.5 2157.5,1462.5 2160.5,1462.5 2163.5,1462.5 2166.5,1462.5 2169.5,1462.5 2172.5,1462.5 2175.5,1462.5 2178.5,1462.5 2181.5,1462.5 2184.5,1462.5 2187.5,1462.5 2190.5,1462.5 2193.5,1462.5 2196.5,1462.5 2199.5,1462.5 2202.5,1462.5 2205.5,1462.5 2208.4,1462.5 2211.4,1462.5 2214.2,1462.5 2216.8,1462.5 2218.7,1462.5 2219.2,1462.5" stroke="#d0121a"/>
<polyline points="289.0,1462.5 290.8,1462.5 293.3,1462.5 296.1,1462.5 299.0,1462.4 302.0,1462.4 305.0,1462.4 308.0,1462.4 311.0,1462.4 314.0,1462.4 317.0,1462.4 320.0,1462.3 323.0,1462.3 326.0,1462.3 329.0,1462.3 332.0,1462.3 335.0,1462.3 338.0,1462.3 341.0,1462.2 344.0,1462.2 347.0,1462.2 350.0,1462.2 353.0,1462.2 356.0,1462.2 359.0,1462.2 362.0,1462.1 365.0,1462.1 368.0,1462.1 371.0,1462.1 374.0,1462.1 377.0,1462.1 380.0,1462.1 383.0,1462.0 386.0,1462.0 389.0,1462.0 392.0,1462.0 395.0,1462.0 398.0,1462.0 401.0,1462.0 404.0,1461.9 407.0,1461.9 410.0,1461.9 413.0,1461.9 416.0,1461.9 419.0,1461.9 422.0,1461.9 425.0,1461.8 428.0,1461.8 431.0,1461.8 434.0,1461.8 437.0,1461.8 440.0,1461.8 443.0,1461.8 446.0,1461.7 449.0,1461.7 452.0,1461.7 455.0,1461.7 458.0,1461.7 461.0,1461.7 464.0,1461.7 467.0,1461.6 470.0,1461.6 473.0,1461.6 476.0,1461.6 479.0,1461.6 482.0,1461.6 485.0,1461.6 488.0,1461.5 491.0,1461.5 494.0,1461.5 497.0,1461.5 500.0,1461.5 503.0,1461.5 506.0,1461.5 509.0,1461.4 512.0,1461.4 515.0,1461.4 518.0,1461.4 521.0,1461.4 524.0,1461.4 527.0,1461.4 530.0,1461.3 533.0,1461.3 536.0,1461.3 539.0,1461.3 542.0,1461.3 545.0,1461.3 548.0,1461.3 551.0,1461.2 554.0,1461.2 557.0,1461.2 560.0,1461.2 563.0,1461.2 566.0,1461.2 569.0,1461.2 572.0,1461.1 575.0,1461.1 578.0,1461.1 581.0,1461.1 584.0,1461.1 587.0,1461.1 590.0,1461.1 593.0,1461.0 595.9,1460.9 598.8,1460.5 601.5,1459.8 604.0,1458.5 606.4,1457.0 608.7,1455.2 611.2,1453.6 613.7,1452.1 616.4,1450.7 619.1,1449.5 621.9,1448.5 624.7,1447.5 627.6,1446.8 630.5,1446.3 633.5,1445.9 636.5,1445.6 639.5,1445.4 642.5,1445.3 645.5,1445.2 648.5,1445.2 651.5,1445.1 654.4,1445.1 657.3,1444.9 660.1,1444.4 662.7,1443.7 665.2,1442.9 667.8,1442.2 670.5,1441.8 673.4,1441.6 676.4,1441.5 679.4,1441.5 682.4,1441.5 685.4,1441.5 688.4,1441.5 691.4,1441.5 694.4,1441.5 697.4,1441.5 700.4,1441.5 703.4,1441.5 706.4,1441.5 709.4,1441.5 712.4,1441.5 715.4,1441.5 718.4,1441.5 721.4,1441.5 724.4,1441.5 727.4,1441.5 730.4,1441.5 733.4,1441.5 736.4,1441.5 739.4,1441.5 742.4,1441.5 745.3,1441.6 748.2,1441.9 750.9,1442.3 753.6,1443.0 756.2,1443.7 759.0,1444.2 761.8,1444.5 764.8,1444.6 767.8,1444.6 770.8,1444.6 773.8,1444.6 776.8,1444.6 779.8,1444.6 782.8,1444.6 785.7,1444.6 788.7,1444.7 791.7,1444.9 794.5,1445.2 797.3,1445.8 800.1,1446.4 802.9,1446.8 805.9,1447.1 808.8,1447.2 811.8,1447.2 814.8,1447.2 817.8,1447.2 820.8,1447.2 823.8,1447.2 826.8,1447.2 829.8,1447.2 832.8,1447.2 835.8,1447.2 838.8,1447.2 841.8,1447.2 844.8,1447.2 847.8,1447.2 850.8,1447.1 853.7,1446.9 856.5,1446.5 859.2,1445.8 861.8,1445.0 864.5,1444.3 867.3,1443.8 870.2,1443.6 873.2,1443.5 876.2,1443.5 879.2,1443.5 882.2,1443.5 885.2,1443.5 888.2,1443.4 891.2,1443.4 894.2,1443.4 897.2,1443.4 900.2,1443.4 903.2,1443.4 906.2,1443.3 909.2,1443.3 912.2,1443.3 915.2,1443.3 918.2,1443.3 921.1,1443.2 924.1,1443.0 927.0,1442.7 929.9,1442.3 932.7,1441.8 935.6,1441.5 938.5,1441.3 941.5,1441.2 944.5,1441.2 947.5,1441.2 950.5,1441.2 953.5,1441.2 956.5,1441.2 959.5,1441.2 962.5,1441.3 965.4,1441.4 968.3,1441.7 971.1,1442.2 973.8,1442.8 976.6,1443.3 979.5,1443.6 982.4,1443.8 985.4,1443.8 988.4,1443.8 991.4,1443.8 994.4,1443.8 997.4,1443.8 1000.4,1443.8 1003.4,1443.8 1006.4,1443.8 1009.4,1443.8 1012.4,1443.8 1015.4,1443.8 1018.4,1443.8 1021.4,1443.9 1024.3,1444.0 1027.2,1444.3 1030.0,1444.8 1032.7,1445.4 1035.5,1446.0 1038.4,1446.3 1041.4,1446.4 1044.3,1446.4 1047.3,1446.5 1050.3,1446.5 1053.3,1446.5 1056.3,1446.5 1059.3,1446.5 1062.3,1446.5 1065.3,1446.5 1068.3,1446.5 1071.3,1446.6 1074.3,1446.6 1077.3,1446.6 1080.3,1446.6 1083.3,1446.6 1086.3,1446.6 1089.3,1446.6 1092.3,1446.6 1095.3,1446.6 1098.3,1446.6 1101.2,1446.5 1104.0,1446.1 1106.5,1445.5 1109.0,1444.6 1111.4,1443.8 1114.1,1443.2 1116.9,1442.9 1119.9,1442.7 1122.8,1442.4 1125.8,1442.1 1128.8,1441.7 1131.7,1441.1 1134.6,1440.3 1137.5,1439.5 1140.3,1438.6 1143.2,1437.7 1146.0,1436.8 1148.9,1435.9 1151.8,1435.1 1154.7,1434.2 1157.5,1433.3 1160.3,1432.3 1163.1,1431.1 1165.8,1429.9 1168.5,1428.6 1171.2,1427.2 1173.8,1425.9 1176.5,1424.5 1179.1,1423.1 1181.8,1421.6 1184.4,1420.2 1187.0,1418.7 1189.6,1417.2 1192.2,1415.7 1194.7,1414.1 1197.3,1412.5 1199.8,1410.8 1202.3,1409.2 1204.7,1407.5 1207.2,1405.8 1209.7,1404.0 1212.1,1402.3 1214.5,1400.5 1216.9,1398.7 1219.4,1397.0 1221.8,1395.2 1224.2,1393.4 1226.6,1391.6 1228.9,1389.7 1231.2,1387.8 1233.4,1385.8 1235.7,1383.8 1237.9,1381.8 1240.0,1379.7 1242.1,1377.6 1244.2,1375.4 1246.3,1373.3 1248.4,1371.2 1250.6,1369.1 1252.8,1367.0 1255.0,1365.0 1257.3,1363.1 1259.5,1361.1 1261.8,1359.1 1264.0,1357.0 1266.1,1355.0 1268.3,1352.9 1270.4,1350.8 1272.6,1348.7 1274.7,1346.6 1276.9,1344.5 1279.0,1342.4 1281.2,1340.3 1283.3,1338.2 1285.4,1336.1 1287.6,1334.0 1289.7,1331.9 1291.8,1329.7 1293.9,1327.6 1296.1,1325.5 1298.2,1323.4 1300.3,1321.3 1302.4,1319.1 1304.6,1317.0 1306.7,1314.9 1308.8,1312.8 1310.9,1310.7 1313.0,1308.5 1315.2,1306.4 1317.3,1304.3 1319.4,1302.2 1321.5,1300.0 1323.6,1297.9 1325.7,1295.8 1327.9,1293.7 1330.0,1291.5 1332.1,1289.4 1334.2,1287.3 1336.4,1285.2 1338.5,1283.1 1340.7,1281.1 1342.9,1279.0 1345.2,1277.0 1347.4,1275.0 1349.6,1273.0 1351.9,1271.1 1354.1,1269.1 1356.4,1267.1 1358.6,1265.1 1360.8,1263.1 1363.1,1261.1 1365.4,1259.1 1367.7,1257.2 1370.0,1255.4 1372.4,1253.6 1374.9,1251.9 1377.3,1250.1 1379.6,1248.2 1381.9,1246.3 1384.1,1244.2 1386.2,1242.1 1388.3,1240.0 1390.3,1237.8 1392.4,1235.6 1394.4,1233.4 1396.4,1231.1 1398.4,1228.9 1400.4,1226.7 1402.4,1224.4 1404.3,1222.1 1406.3,1219.8 1408.2,1217.5 1410.1,1215.2 1412.0,1212.9 1413.9,1210.6 1415.8,1208.3 1417.7,1205.9 1419.5,1203.6 1421.3,1201.2 1423.2,1198.8 1425.0,1196.4 1426.7,1194.0 1428.5,1191.6 1430.2,1189.1 1431.9,1186.6 1433.5,1184.1 1435.1,1181.5 1436.7,1179.0 1438.2,1176.4 1439.8,1173.9 1441.3,1171.3 1442.7,1168.7 1444.1,1166.0 1445.5,1163.3 1446.9,1160.7 1448.2,1158.0 1449.6,1155.3 1451.1,1152.7 1452.5,1150.1 1454.0,1147.5 1455.4,1144.8 1456.9,1142.2 1458.4,1139.6 1459.9,1137.0 1461.5,1134.5 1463.0,1131.9 1464.5,1129.3 1466.0,1126.7 1467.5,1124.1 1469.0,1121.5 1470.5,1118.9 1471.9,1116.2 1473.3,1113.6 1474.7,1111.0 1476.1,1108.3 1477.4,1105.6 1478.7,1102.9 1479.9,1100.1 1481.1,1097.4 1482.4,1094.7 1483.6,1091.9 1484.8,1089.2 1485.9,1086.4 1487.1,1083.6 1488.2,1080.8 1489.3,1078.0 1490.3,1075.2 1491.3,1072.4 1492.2,1069.5 1493.1,1066.7 1493.9,1063.8 1494.7,1060.9 1495.6,1058.0 1496.4,1055.1 1497.2,1052.3 1498.1,1049.4 1499.0,1046.5 1499.9,1043.7 1500.8,1040.8 1501.8,1038.0 1502.7,1035.1 1503.7,1032.3 1504.6,1029.4 1505.6,1026.6 1506.5,1023.7 1507.4,1020.9 1508.4,1018.1 1509.4,1015.2 1510.3,1012.4 1511.3,1009.5 1512.2,1006.7 1513.1,1003.8 1514.1,1001.0 1514.9,998.1 1515.8,995.2 1516.7,992.4 1517.5,989.5 1518.4,986.6 1519.2,983.7 1520.1,980.9 1521.0,978.0 1521.9,975.1 1522.8,972.3 1523.7,969.4 1524.5,966.5 1525.4,963.7 1526.3,960.8 1527.2,957.9 1528.1,955.1 1529.0,952.2 1529.9,949.3 1530.8,946.5 1531.6,943.6 1532.5,940.7 1533.3,937.8 1534.1,935.0 1535.0,932.1 1535.8,929.2 1536.7,926.3 1537.5,923.4 1538.4,920.6 1539.2,917.7 1540.0,914.8 1540.8,911.9 1541.5,909.0 1542.3,906.1 1543.2,903.2 1544.0,900.3 1544.8,897.5 1545.7,894.6 1546.5,891.7 1547.4,888.8 1548.1,885.9 1548.9,883.0 1549.7,880.1 1550.5,877.2 1551.3,874.4 1552.1,871.5 1552.9,868.6 1553.6,865.7 1554.3,862.7 1554.9,859.8 1555.6,856.9 1556.3,854.0 1557.0,851.0 1557.7,848.1 1558.4,845.2 1559.1,842.3 1559.8,839.4 1560.6,836.5 1561.4,833.6 1562.2,830.7 1563.0,827.8 1563.8,824.9 1564.5,822.0 1565.3,819.1 1566.0,816.2 1566.7,813.3 1567.5,810.4 1568.2,807.5 1569.0,804.6 1569.9,801.7 1570.9,798.9 1571.9,796.1 1572.9,793.3 1573.8,790.4 1574.7,787.6 1575.5,784.7 1576.4,781.8 1577.1,778.9 1577.9,776.0 1578.6,773.1 1579.4,770.2 1580.1,767.3 1580.8,764.4 1581.6,761.5 1582.3,758.6 1583.0,755.6 1583.8,752.7 1584.5,749.8 1585.2,746.9 1586.0,744.0 1586.7,741.1 1587.4,738.2 1588.1,735.3 1588.9,732.4 1589.6,729.4 1590.3,726.5 1591.0,723.6 1591.8,720.7 1592.5,717.8 1593.3,714.9 1594.2,712.0 1595.0,709.2 1595.9,706.3 1596.8,703.4 1597.8,700.6 1598.7,697.8 1599.7,694.9 1600.6,692.1 1601.5,689.2 1602.4,686.3 1603.2,683.5 1604.0,680.6 1604.9,677.7 1605.7,674.8 1606.5,671.9 1607.3,669.0 1608.2,666.2 1609.1,663.3 1610.1,660.5 1611.1,657.7 1612.2,654.8 1613.2,652.1 1614.3,649.3 1615.5,646.5 1616.6,643.7 1617.8,640.9 1618.9,638.2 1620.1,635.4 1621.3,632.7 1622.5,629.9 1623.7,627.2 1624.9,624.4 1626.0,621.6 1627.2,618.9 1628.4,616.1 1629.6,613.4 1630.8,610.6 1632.1,607.9 1633.3,605.2 1634.6,602.5 1635.9,599.8 1637.4,597.2 1639.0,594.6 1640.6,592.2 1642.4,589.7 1644.2,587.3 1646.0,585.0 1647.9,582.7 1649.9,580.4 1651.9,578.3 1654.1,576.3 1656.3,574.6 1658.8,573.4 1661.5,572.7 1664.4,572.4 1667.4,572.3 1670.3,572.3 1673.3,572.4 1676.1,572.7 1678.8,573.4 1681.2,574.6 1683.4,576.2 1685.4,578.3 1687.3,580.5 1689.3,582.8 1691.1,585.1 1692.9,587.5 1694.6,590.0 1696.2,592.5 1697.8,595.1 1699.3,597.7 1700.7,600.3 1702.0,603.0 1703.3,605.7 1704.5,608.4 1705.7,611.2 1706.9,614.0 1708.0,616.7 1709.1,619.5 1710.2,622.3 1711.2,625.1 1712.2,628.0 1713.2,630.8 1714.2,633.6 1715.2,636.5 1716.2,639.3 1717.2,642.1 1718.1,645.0 1719.1,647.8 1720.0,650.7 1721.0,653.5 1721.9,656.4 1722.9,659.2 1723.8,662.0 1724.8,664.9 1725.7,667.7 1726.7,670.6 1727.6,673.4 1728.5,676.3 1729.4,679.2 1730.2,682.0 1731.0,684.9 1731.8,687.8 1732.6,690.7 1733.4,693.6 1734.2,696.5 1735.0,699.4 1735.7,702.3 1736.5,705.2 1737.3,708.1 1738.1,711.0 1738.8,713.9 1739.6,716.8 1740.4,719.7 1741.2,722.6 1742.0,725.5 1742.7,728.4 1743.5,731.3 1744.3,734.2 1745.1,737.1 1745.9,740.0 1746.6,742.9 1747.4,745.8 1748.2,748.7 1749.0,751.6 1749.7,754.5 1750.5,757.4 1751.2,760.3 1752.0,763.2 1752.7,766.1 1753.5,769.0 1754.2,771.9 1755.0,774.8 1755.7,777.7 1756.5,780.6 1757.2,783.5 1758.0,786.4 1758.8,789.3 1759.5,792.2 1760.3,795.1 1761.1,798.0 1761.8,800.9 1762.6,803.8 1763.3,806.7 1764.1,809.6 1764.8,812.5 1765.5,815.5 1766.2,818.4 1766.9,821.3 1767.5,824.2 1768.1,827.2 1768.7,830.1 1769.3,833.0 1769.8,836.0 1770.4,838.9 1770.9,841.9 1771.5,844.8 1772.0,847.8 1772.6,850.7 1773.2,853.7 1773.7,856.6 1774.3,859.6 1774.9,862.5 1775.5,865.4 1776.1,868.4 1776.7,871.3 1777.3,874.3 1777.9,877.2 1778.5,880.1 1779.1,883.1 1779.7,886.0 1780.3,889.0 1781.0,891.9 1781.6,894.8 1782.2,897.8 1782.8,900.7 1783.4,903.6 1784.0,906.6 1784.6,909.5 1785.2,912.5 1785.8,915.4 1786.4,918.3 1787.0,921.3 1787.6,924.2 1788.2,927.1 1788.9,930.1 1789.5,933.0 1790.1,936.0 1790.7,938.9 1791.4,941.8 1792.0,944.7 1792.7,947.7 1793.3,950.6 1793.9,953.5 1794.6,956.5 1795.2,959.4 1795.9,962.3 1796.5,965.3 1797.1,968.2 1797.8,971.1 1798.4,974.1 1799.1,977.0 1799.7,979.9 1800.3,982.9 1801.0,985.8 1801.6,988.7 1802.2,991.6 1802.9,994.6 1803.5,997.5 1804.2,1000.4 1804.8,1003.4 1805.5,1006.3 1806.1,1009.2 1806.8,1012.1 1807.5,1015.1 1808.2,1018.0 1808.9,1020.9 1809.6,1023.8 1810.3,1026.7 1811.1,1029.6 1811.8,1032.5 1812.5,1035.5 1813.2,1038.4 1813.9,1041.3 1814.6,1044.2 1815.3,1047.1 1815.9,1050.1 1816.5,1053.0 1817.2,1055.9 1817.8,1058.9 1818.5,1061.8 1819.2,1064.7 1819.8,1067.6 1820.5,1070.6 1821.2,1073.5 1821.8,1076.4 1822.5,1079.3 1823.1,1082.3 1823.8,1085.2 1824.5,1088.1 1825.1,1091.0 1825.8,1094.0 1826.5,1096.9 1827.2,1099.8 1827.9,1102.7 1828.6,1105.6 1829.4,1108.5 1830.1,1111.4 1830.8,1114.4 1831.5,1117.3 1832.3,1120.2 1833.0,1123.1 1833.8,1126.0 1834.5,1128.9 1835.3,1131.8 1836.0,1134.7 1836.8,1137.6 1837.5,1140.5 1838.3,1143.4 1839.1,1146.3 1839.9,1149.2 1840.6,1152.1 1841.4,1155.0 1842.2,1157.9 1842.9,1160.8 1843.7,1163.7 1844.5,1166.6 1845.3,1169.5 1846.0,1172.4 1846.8,1175.3 1847.6,1178.2 1848.4,1181.1 1849.1,1184.0 1849.9,1186.9 1850.7,1189.8 1851.4,1192.7 1852.2,1195.6 1853.0,1198.5 1853.8,1201.4 1854.5,1204.3 1855.3,1207.2 1856.1,1210.1 1856.9,1213.0 1857.6,1215.9 1858.4,1218.8 1859.2,1221.7 1860.0,1224.6 1860.8,1227.4 1861.6,1230.3 1862.5,1233.2 1863.3,1236.1 1864.2,1238.9 1865.2,1241.8 1866.1,1244.7 1867.0,1247.5 1867.9,1250.4 1868.8,1253.2 1869.7,1256.1 1870.6,1258.9 1871.6,1261.8 1872.5,1264.6 1873.4,1267.5 1874.3,1270.4 1875.3,1273.2 1876.2,1276.1 1877.2,1278.9 1878.1,1281.7 1879.1,1284.6 1880.0,1287.4 1881.0,1290.3 1882.0,1293.1 1883.0,1295.9 1884.0,1298.8 1885.0,1301.6 1886.0,1304.4 1887.1,1307.2 1888.1,1310.0 1889.3,1312.8 1890.4,1315.6 1891.6,1318.3 1892.8,1321.1 1894.0,1323.8 1895.3,1326.5 1896.6,1329.2 1897.9,1331.9 1899.3,1334.6 1900.6,1337.3 1901.9,1340.0 1903.3,1342.6 1904.7,1345.3 1906.1,1348.0 1907.5,1350.6 1909.0,1353.2 1910.5,1355.8 1912.0,1358.4 1913.5,1361.0 1915.0,1363.6 1916.5,1366.2 1918.0,1368.8 1919.5,1371.4 1921.0,1374.0 1922.4,1376.6 1923.9,1379.2 1925.3,1381.9 1926.8,1384.5 1928.4,1387.0 1930.1,1389.5 1931.8,1391.9 1933.6,1394.3 1935.4,1396.7 1937.4,1399.0 1939.3,1401.3 1941.3,1403.5 1943.3,1405.7 1945.4,1407.9 1947.5,1410.0 1949.6,1412.2 1951.7,1414.3 1953.9,1416.3 1956.1,1418.3 1958.4,1420.3 1960.7,1422.2 1963.0,1424.1 1965.4,1425.9 1967.8,1427.7 1970.3,1429.4 1972.8,1431.1 1975.3,1432.7 1977.8,1434.3 1980.4,1435.8 1983.0,1437.3 1985.7,1438.7 1988.3,1440.1 1991.0,1441.5 1993.7,1442.8 1996.4,1444.1 1999.1,1445.4 2001.8,1446.6 2004.6,1447.8 2007.4,1448.9 2010.2,1450.0 2013.0,1451.0 2015.8,1452.0 2018.7,1452.9 2021.5,1453.8 2024.4,1454.8 2027.2,1455.7 2030.1,1456.7 2032.9,1457.7 2035.7,1458.7 2038.5,1459.7 2041.3,1460.7 2044.2,1461.5 2047.0,1462.0 2050.0,1462.3 2053.0,1462.5 2056.0,1462.5 2059.0,1462.5 2062.0,1462.5 2065.0,1462.5 2068.0,1462.5 2071.0,1462.5 2074.0,1462.5 2077.0,1462.5 2080.0,1462.5 2083.0,1462.5 2086.0,1462.5 2089.0,1462.5 2092.0,1462.5 2095.0,1462.5 2098.0,1462.5 2101.0,1462.5 2104.0,1462.5 2107.0,1462.5 2110.0,1462.5 2113.0,1462.5 2116.0,1462.5 2119.0,1462.5 2122.0,1462.5 2125.0,1462.5 2128.0,1462.5 2131.0,1462.5 2134.0,1462.5 2137.0,1462.5 2140.0,1462.5 2143.0,1462.5 2146.0,1462.5 2149.0,1462.5 2152.0,1462.5 2155.0,1462.5 2158.0,1462.5 2161.0,1462.5 2164.0,1462.5 2167.0,1462.5 2170.0,1462.5 2173.0,1462.5 2176.0,1462.5 2179.0,1462.5 2182.0,1462.5 2185.0,1462.5 2188.0,1462.5 2191.0,1462.5 2194.0,1462.5 2197.0,1462.5 2200.0,1462.5 2203.0,1462.5 2206.0,1462.5 2208.9,1462.5 2211.9,1462.5 2214.7,1462.5 2217.1,1462.5 2219.0,1462.5 2219.0,1462.5" stroke="#1a0f8c"/>
<polyline points="289.0,1462.5 290.8,1462.5 293.3,1462.5 296.1,1462.5 299.0,1462.5 302.0,1462.5 305.0,1462.5 308.0,1462.5 311.0,1462.5 314.0,1462.5 317.0,1462.4 320.0,1462.4 323.0,1462.4 326.0,1462.4 329.0,1462.4 332.0,1462.4 335.0,1462.4 338.0,1462.4 341.0,1462.4 344.0,1462.4 347.0,1462.4 350.0,1462.4 353.0,1462.4 356.0,1462.4 359.0,1462.4 362.0,1462.4 365.0,1462.4 368.0,1462.4 371.0,1462.4 374.0,1462.4 377.0,1462.3 380.0,1462.3 383.0,1462.3 386.0,1462.3 389.0,1462.3 392.0,1462.3 395.0,1462.3 398.0,1462.3 401.0,1462.3 404.0,1462.3 407.0,1462.3 410.0,1462.3 413.0,1462.3 416.0,1462.3 419.0,1462.3 422.0,1462.3 425.0,1462.3 428.0,1462.3 431.0,1462.3 434.0,1462.2 437.0,1462.2 440.0,1462.2 443.0,1462.2 446.0,1462.2 449.0,1462.2 452.0,1462.2 455.0,1462.2 458.0,1462.2 461.0,1462.2 464.0,1462.2 467.0,1462.2 470.0,1462.2 473.0,1462.2 476.0,1462.2 479.0,1462.2 482.0,1462.2 485.0,1462.2 488.0,1462.2 491.0,1462.2 494.0,1462.1 497.0,1462.1 500.0,1462.1 503.0,1462.1 506.0,1462.1 509.0,1462.1 512.0,1462.1 515.0,1462.1 518.0,1462.1 521.0,1462.1 524.0,1462.1 527.0,1462.1 530.0,1462.1 533.0,1462.1 536.0,1462.1 539.0,1462.1 542.0,1462.1 545.0,1462.1 548.0,1462.1 551.0,1462.1 554.0,1462.0 557.0,1462.0 560.0,1462.0 563.0,1462.0 566.0,1462.0 569.0,1462.0 571.9,1461.9 574.7,1461.7 577.2,1461.0 579.2,1459.8 580.7,1457.9 581.7,1455.4 582.4,1452.7 583.1,1449.8 583.8,1446.9 584.5,1443.9 585.2,1441.0 585.9,1438.1 586.6,1435.2 587.3,1432.3 588.1,1429.4 588.9,1426.5 589.7,1423.6 590.5,1420.7 591.3,1417.8 592.1,1414.9 592.8,1412.0 593.6,1409.1 594.4,1406.2 595.2,1403.3 596.0,1400.4 596.8,1397.6 597.6,1394.7 598.4,1391.8 599.2,1388.9 600.0,1386.0 600.8,1383.1 601.5,1380.2 602.3,1377.3 603.0,1374.4 603.8,1371.5 604.5,1368.6 605.2,1365.6 606.0,1362.7 606.7,1359.8 607.4,1356.9 608.2,1354.0 608.9,1351.1 609.6,1348.2 610.3,1345.3 611.1,1342.4 611.8,1339.5 612.5,1336.5 613.2,1333.6 614.0,1330.7 614.7,1327.8 615.4,1324.9 616.2,1322.0 616.9,1319.1 617.6,1316.2 618.4,1313.3 619.1,1310.4 619.8,1307.4 620.5,1304.5 621.2,1301.6 621.8,1298.7 622.4,1295.7 623.0,1292.8 623.6,1289.9 624.2,1286.9 624.8,1284.0 625.4,1281.0 626.0,1278.1 626.6,1275.2 627.3,1272.3 628.1,1269.3 628.8,1266.4 629.5,1263.5 630.2,1260.6 630.9,1257.7 631.6,1254.8 632.2,1251.8 632.8,1248.9 633.4,1246.0 634.0,1243.0 634.6,1240.1 635.2,1237.1 635.8,1234.2 636.5,1231.3 637.1,1228.3 637.7,1225.4 638.4,1222.5 639.1,1219.6 639.8,1216.6 640.5,1213.7 641.2,1210.8 641.8,1207.9 642.5,1205.0 643.2,1202.0 644.0,1199.1 644.7,1196.2 645.4,1193.3 646.1,1190.4 646.9,1187.5 647.6,1184.6 648.4,1181.7 649.2,1178.8 650.0,1175.9 650.9,1173.0 651.7,1170.2 652.6,1167.3 653.5,1164.4 654.4,1161.6 655.3,1158.7 656.2,1155.8 657.1,1153.0 658.1,1150.1 659.0,1147.3 660.0,1144.4 660.9,1141.6 661.8,1138.8 662.8,1135.9 663.7,1133.1 664.7,1130.2 665.6,1127.4 666.6,1124.5 667.6,1121.7 668.6,1118.9 669.7,1116.1 670.8,1113.3 672.0,1110.6 673.2,1107.8 674.4,1105.1 675.7,1102.3 677.0,1099.6 678.4,1097.0 679.8,1094.3 681.2,1091.7 682.6,1089.0 683.9,1086.3 685.2,1083.6 686.5,1080.9 687.8,1078.2 689.1,1075.6 690.6,1073.0 692.3,1070.6 694.1,1068.2 696.0,1065.9 698.0,1063.7 700.1,1061.5 702.2,1059.4 704.3,1057.2 706.4,1055.1 708.6,1053.1 710.9,1051.2 713.3,1049.5 715.8,1048.0 718.5,1046.8 721.3,1045.8 724.2,1044.9 727.0,1044.0 729.9,1043.2 732.8,1042.3 735.7,1041.4 738.5,1040.5 741.4,1039.6 744.2,1038.6 747.0,1037.6 749.8,1036.5 752.6,1035.4 755.3,1034.1 757.8,1032.6 760.2,1030.9 762.5,1029.0 764.6,1026.9 766.6,1024.8 768.7,1022.6 770.8,1020.4 772.9,1018.3 775.0,1016.1 777.0,1013.9 778.9,1011.7 780.7,1009.3 782.2,1006.8 783.7,1004.1 784.9,1001.4 786.1,998.7 787.3,995.9 788.4,993.2 789.6,990.4 790.7,987.6 791.9,984.9 793.0,982.1 794.2,979.3 795.3,976.5 796.5,973.8 797.6,971.0 798.8,968.2 799.9,965.4 801.0,962.7 802.1,959.9 803.2,957.1 804.2,954.2 805.2,951.4 806.2,948.6 807.1,945.7 808.0,942.9 808.9,940.0 809.8,937.1 810.5,934.2 811.3,931.3 812.0,928.4 812.7,925.5 813.4,922.6 814.2,919.7 814.9,916.8 815.7,913.9 816.5,911.0 817.4,908.1 818.2,905.2 819.0,902.4 819.8,899.5 820.6,896.6 821.5,893.7 822.3,890.8 823.1,887.9 823.9,885.0 824.8,882.2 825.6,879.3 826.4,876.4 827.2,873.5 828.0,870.6 828.8,867.7 829.5,864.8 830.2,861.9 830.8,859.0 831.4,856.0 831.9,853.0 832.3,850.1 832.8,847.1 833.3,844.2 833.8,841.2 834.3,838.2 834.8,835.3 835.3,832.3 835.8,829.4 836.4,826.4 837.0,823.5 837.5,820.5 838.1,817.6 838.7,814.7 839.2,811.7 839.8,808.8 840.4,805.8 841.0,802.9 841.5,799.9 842.1,797.0 842.7,794.0 843.2,791.1 843.8,788.1 844.3,785.2 844.9,782.3 845.5,779.3 846.0,776.4 846.6,773.4 847.2,770.5 847.7,767.5 848.3,764.6 848.9,761.6 849.5,758.7 850.0,755.7 850.6,752.8 851.2,749.9 851.8,746.9 852.4,744.0 853.0,741.0 853.6,738.1 854.2,735.2 854.8,732.2 855.4,729.3 855.9,726.3 856.5,723.4 857.0,720.4 857.5,717.5 858.1,714.5 858.6,711.6 859.1,708.6 859.6,705.7 860.2,702.7 860.7,699.8 861.2,696.8 861.8,693.8 862.3,690.9 862.9,688.0 863.6,685.0 864.2,682.1 864.9,679.2 865.6,676.3 866.3,673.3 866.9,670.4 867.6,667.5 868.3,664.6 869.0,661.7 869.7,658.7 870.3,655.8 871.0,652.9 871.7,650.0 872.3,647.0 873.0,644.1 873.7,641.2 874.3,638.3 875.0,635.3 875.7,632.4 876.3,629.5 877.0,626.6 877.7,623.6 878.3,620.7 879.0,617.8 879.6,614.8 880.2,611.9 880.8,609.0 881.5,606.0 882.1,603.1 882.7,600.2 883.3,597.2 883.9,594.3 884.5,591.3 885.0,588.4 885.6,585.4 886.1,582.5 886.7,579.5 887.2,576.6 887.8,573.7 888.3,570.7 888.9,567.8 889.5,564.8 890.1,561.9 890.6,558.9 891.2,556.0 891.8,553.0 892.4,550.1 893.0,547.2 893.6,544.2 894.3,541.3 894.9,538.4 895.6,535.4 896.3,532.5 897.0,529.6 897.7,526.7 898.4,523.8 899.1,520.9 899.9,518.0 900.6,515.1 901.3,512.1 902.1,509.2 902.8,506.3 903.5,503.4 904.3,500.5 905.0,497.6 905.8,494.7 906.5,491.8 907.3,488.9 908.0,486.0 908.8,483.1 909.6,480.2 910.3,477.3 911.1,474.4 911.9,471.5 912.7,468.6 913.6,465.7 914.4,462.9 915.3,460.0 916.2,457.1 917.2,454.3 918.3,451.5 919.5,448.8 920.7,446.1 922.1,443.4 923.4,440.7 924.7,438.0 926.0,435.3 927.3,432.6 928.5,429.9 929.8,427.1 931.0,424.4 932.2,421.7 933.4,418.9 934.6,416.2 935.9,413.5 937.3,411.2 939.1,409.2 941.3,407.8 943.9,406.9 946.7,406.3 949.7,405.9 952.6,405.6 955.5,405.4 958.2,405.6 960.5,406.5 962.6,408.0 964.3,410.1 965.9,412.5 967.4,415.0 968.9,417.6 970.3,420.3 971.8,422.9 973.2,425.6 974.6,428.2 976.0,430.9 977.4,433.5 978.7,436.2 980.1,438.9 981.4,441.6 982.6,444.3 983.7,447.1 984.6,449.9 985.5,452.8 986.3,455.7 987.1,458.6 987.8,461.5 988.6,464.4 989.3,467.3 989.9,470.2 990.6,473.1 991.3,476.1 991.9,479.0 992.6,481.9 993.2,484.9 993.9,487.8 994.5,490.7 995.2,493.6 995.8,496.6 996.5,499.5 997.1,502.4 997.8,505.4 998.5,508.3 999.1,511.2 999.8,514.1 1000.6,517.0 1001.3,519.9 1002.0,522.8 1002.7,525.8 1003.4,528.7 1004.1,531.6 1004.8,534.5 1005.5,537.4 1006.1,540.4 1006.8,543.3 1007.4,546.2 1008.1,549.2 1008.7,552.1 1009.4,555.0 1010.1,557.9 1010.8,560.9 1011.4,563.8 1012.1,566.7 1012.8,569.6 1013.4,572.6 1014.0,575.5 1014.6,578.4 1015.1,581.4 1015.6,584.3 1016.1,587.3 1016.6,590.3 1017.1,593.2 1017.5,596.2 1017.9,599.2 1018.2,602.1 1018.5,605.1 1018.9,608.1 1019.3,611.1 1019.7,614.0 1020.2,617.0 1020.7,620.0 1021.1,622.9 1021.6,625.9 1022.0,628.9 1022.5,631.8 1023.0,634.8 1023.4,637.8 1023.9,640.7 1024.4,643.7 1024.8,646.6 1025.3,649.6 1025.8,652.6 1026.2,655.5 1026.7,658.5 1027.2,661.5 1027.6,664.4 1028.1,667.4 1028.5,670.4 1029.0,673.3 1029.5,676.3 1029.9,679.2 1030.4,682.2 1030.9,685.2 1031.3,688.1 1031.8,691.1 1032.3,694.1 1032.7,697.0 1033.2,700.0 1033.7,703.0 1034.1,705.9 1034.6,708.9 1035.0,711.8 1035.5,714.8 1036.0,717.8 1036.4,720.7 1036.9,723.7 1037.4,726.7 1037.9,729.6 1038.3,732.6 1038.8,735.5 1039.3,738.5 1039.8,741.5 1040.3,744.4 1040.8,747.4 1041.3,750.3 1041.8,753.3 1042.3,756.3 1042.8,759.2 1043.3,762.2 1043.7,765.1 1044.2,768.1 1044.7,771.1 1045.2,774.0 1045.7,777.0 1046.2,779.9 1046.7,782.9 1047.2,785.9 1047.7,788.8 1048.1,791.8 1048.6,794.7 1049.1,797.7 1049.5,800.7 1049.9,803.6 1050.4,806.6 1050.8,809.6 1051.2,812.6 1051.7,815.5 1052.1,818.5 1052.5,821.5 1053.0,824.4 1053.4,827.4 1053.8,830.4 1054.2,833.3 1054.7,836.3 1055.1,839.3 1055.5,842.2 1056.0,845.2 1056.4,848.2 1056.8,851.2 1057.2,854.1 1057.7,857.1 1058.1,860.1 1058.5,863.0 1058.8,866.0 1059.2,869.0 1059.6,872.0 1060.0,874.9 1060.3,877.9 1060.7,880.9 1061.1,883.9 1061.5,886.8 1061.8,889.8 1062.2,892.8 1062.6,895.8 1063.0,898.8 1063.3,901.7 1063.7,904.7 1064.1,907.7 1064.5,910.7 1064.8,913.6 1065.2,916.6 1065.6,919.6 1065.9,922.6 1066.3,925.5 1066.7,928.5 1067.1,931.5 1067.5,934.5 1067.9,937.4 1068.4,940.4 1068.8,943.4 1069.3,946.3 1069.7,949.3 1070.2,952.3 1070.6,955.2 1071.0,958.2 1071.5,961.2 1071.9,964.1 1072.4,967.1 1072.8,970.1 1073.3,973.0 1073.7,976.0 1074.2,979.0 1074.6,981.9 1075.1,984.9 1075.5,987.9 1075.9,990.8 1076.4,993.8 1076.8,996.8 1077.3,999.7 1077.7,1002.7 1078.2,1005.7 1078.7,1008.6 1079.2,1011.6 1079.7,1014.5 1080.2,1017.5 1080.6,1020.5 1081.1,1023.4 1081.6,1026.4 1082.1,1029.3 1082.6,1032.3 1083.1,1035.3 1083.6,1038.2 1084.1,1041.2 1084.6,1044.1 1085.1,1047.1 1085.6,1050.1 1086.1,1053.0 1086.6,1056.0 1087.1,1058.9 1087.6,1061.9 1088.1,1064.9 1088.5,1067.8 1089.0,1070.8 1089.5,1073.7 1090.0,1076.7 1090.4,1079.7 1090.9,1082.6 1091.4,1085.6 1091.8,1088.6 1092.3,1091.5 1092.8,1094.5 1093.2,1097.4 1093.7,1100.4 1094.1,1103.4 1094.6,1106.3 1095.1,1109.3 1095.5,1112.3 1096.0,1115.2 1096.5,1118.2 1096.9,1121.2 1097.4,1124.1 1097.9,1127.1 1098.4,1130.0 1098.9,1133.0 1099.4,1135.9 1099.9,1138.9 1100.5,1141.9 1101.0,1144.8 1101.5,1147.8 1102.1,1150.7 1102.6,1153.7 1103.1,1156.6 1103.6,1159.6 1104.2,1162.5 1104.7,1165.5 1105.2,1168.4 1105.8,1171.4 1106.3,1174.3 1106.8,1177.3 1107.3,1180.2 1107.8,1183.2 1108.3,1186.2 1108.8,1189.1 1109.3,1192.1 1109.8,1195.0 1110.3,1198.0 1110.8,1201.0 1111.3,1203.9 1111.7,1206.9 1112.2,1209.8 1112.7,1212.8 1113.2,1215.8 1113.7,1218.7 1114.2,1221.7 1114.7,1224.6 1115.2,1227.6 1115.7,1230.6 1116.2,1233.5 1116.7,1236.5 1117.3,1239.4 1117.9,1242.4 1118.5,1245.3 1119.1,1248.2 1119.7,1251.2 1120.3,1254.1 1120.8,1257.1 1121.4,1260.0 1122.0,1262.9 1122.6,1265.9 1123.2,1268.8 1123.8,1271.8 1124.4,1274.7 1125.0,1277.6 1125.6,1280.6 1126.2,1283.5 1126.8,1286.5 1127.4,1289.4 1128.1,1292.3 1128.8,1295.2 1129.6,1298.1 1130.3,1301.0 1131.0,1304.0 1131.7,1306.9 1132.5,1309.8 1133.2,1312.7 1133.9,1315.6 1134.7,1318.5 1135.4,1321.4 1136.1,1324.3 1136.9,1327.2 1137.6,1330.1 1138.4,1333.0 1139.2,1335.9 1140.1,1338.8 1140.9,1341.7 1141.8,1344.5 1142.7,1347.4 1143.5,1350.3 1144.4,1353.2 1145.2,1356.0 1146.1,1358.9 1147.0,1361.8 1147.9,1364.6 1148.8,1367.5 1149.8,1370.3 1150.9,1373.1 1152.0,1375.9 1153.1,1378.7 1154.2,1381.5 1155.3,1384.3 1156.4,1387.0 1157.5,1389.8 1158.7,1392.6 1159.8,1395.4 1160.9,1398.2 1162.1,1400.9 1163.3,1403.7 1164.6,1406.4 1166.0,1409.0 1167.5,1411.6 1169.0,1414.2 1170.4,1416.8 1171.9,1419.4 1173.4,1422.0 1174.9,1424.6 1176.5,1427.2 1178.1,1429.7 1179.9,1432.1 1181.7,1434.5 1183.5,1436.9 1185.4,1439.2 1187.3,1441.5 1189.2,1443.8 1191.2,1446.0 1193.3,1448.1 1195.6,1450.1 1197.9,1452.0 1200.3,1453.8 1202.7,1455.5 1205.2,1457.1 1207.8,1458.4 1210.6,1459.5 1213.4,1460.3 1216.3,1461.0 1219.2,1461.6 1222.2,1462.1 1225.2,1462.3 1228.1,1462.4 1231.1,1462.5 1234.1,1462.5 1237.1,1462.5 1240.1,1462.5 1243.1,1462.5 1246.1,1462.5 1249.1,1462.5 1252.1,1462.5 1255.1,1462.5 1258.1,1462.5 1261.1,1462.5 1264.1,1462.5 1267.1,1462.5 1270.1,1462.5 1273.1,1462.5 1276.1,1462.5 1279.1,1462.5 1282.1,1462.5 1285.1,1462.5 1288.1,1462.5 1291.1,1462.5 1294.1,1462.5 1297.1,1462.5 1300.1,1462.5 1303.1,1462.5 1306.1,1462.5 1309.1,1462.5 1312.1,1462.5 1315.1,1462.5 1318.1,1462.5 1321.1,1462.5 1324.1,1462.5 1327.1,1462.5 1330.1,1462.5 1333.1,1462.5 1336.1,1462.5 1339.1,1462.5 1342.1,1462.5 1345.1,1462.5 1348.1,1462.5 1351.1,1462.5 1354.1,1462.5 1357.1,1462.5 1360.1,1462.5 1363.1,1462.5 1366.1,1462.5 1369.1,1462.5 1372.1,1462.5 1375.1,1462.5 1378.1,1462.5 1381.1,1462.5 1384.1,1462.5 1387.1,1462.5 1390.1,1462.5 1393.1,1462.5 1396.1,1462.5 1399.1,1462.5 1402.1,1462.5 1405.1,1462.5 1408.1,1462.5 1411.1,1462.5 1414.1,1462.5 1417.1,1462.5 1420.1,1462.5 1423.1,1462.5 1426.1,1462.5 1429.1,1462.5 1432.1,1462.5 1435.1,1462.5 1438.1,1462.5 1441.1,1462.5 1444.1,1462.5 1447.1,1462.5 1450.1,1462.5 1453.1,1462.5 1456.1,1462.5 1459.1,1462.5 1462.1,1462.5 1465.1,1462.5 1468.1,1462.5 1471.1,1462.5 1474.1,1462.5 1477.1,1462.5 1480.1,1462.5 1483.1,1462.5 1486.1,1462.5 1489.1,1462.5 1492.1,1462.5 1495.1,1462.5 1498.1,1462.5 1501.1,1462.5 1504.1,1462.5 1507.1,1462.5 1510.1,1462.5 1513.1,1462.5 1516.1,1462.5 1519.1,1462.5 1522.1,1462.5 1525.1,1462.5 1528.1,1462.5 1531.1,1462.5 1534.1,1462.5 1537.1,1462.5 1540.1,1462.5 1543.1,1462.5 1546.1,1462.5 1549.1,1462.5 1552.1,1462.5 1555.1,1462.5 1558.1,1462.5 1561.1,1462.5 1564.1,1462.5 1567.1,1462.5 1570.1,1462.5 1573.1,1462.5 1576.1,1462.5 1579.1,1462.5 1582.1,1462.5 1585.1,1462.5 1588.1,1462.5 1591.1,1462.5 1594.1,1462.5 1597.1,1462.5 1600.1,1462.5 1603.1,1462.5 1606.1,1462.5 1609.1,1462.5 1612.1,1462.5 1615.1,1462.5 1618.1,1462.5 1621.1,1462.5 1624.1,1462.5 1627.1,1462.5 1630.1,1462.5 1633.1,1462.5 1636.1,1462.5 1639.1,1462.5 1642.1,1462.5 1645.1,1462.5 1648.1,1462.5 1651.1,1462.5 1654.1,1462.5 1657.1,1462.5 1660.1,1462.5 1663.1,1462.5 1666.1,1462.5 1669.1,1462.5 1672.1,1462.5 1675.1,1462.5 1678.1,1462.5 1681.1,1462.5 1684.1,1462.5 1687.1,1462.5 1690.1,1462.5 1693.1,1462.5 1696.1,1462.5 1699.1,1462.5 1702.1,1462.5 1705.1,1462.5 1708.1,1462.5 1711.1,1462.5 1714.1,1462.5 1717.1,1462.5 1720.1,1462.5 1723.1,1462.5 1726.1,1462.5 1729.1,1462.5 1732.1,1462.5 1735.1,1462.5 1738.1,1462.5 1741.1,1462.5 1744.1,1462.5 1747.1,1462.5 1750.1,1462.5 1753.1,1462.5 1756.1,1462.5 1759.1,1462.5 1762.1,1462.5 1765.1,1462.5 1768.1,1462.5 1771.1,1462.5 1774.1,1462.5 1777.1,1462.5 1780.1,1462.5 1783.1,1462.5 1786.1,1462.5 1789.1,1462.5 1792.1,1462.5 1795.1,1462.5 1798.1,1462.5 1801.1,1462.5 1804.1,1462.5 1807.1,1462.5 1810.1,1462.5 1813.1,1462.5 1816.1,1462.5 1819.1,1462.5 1822.1,1462.5 1825.1,1462.5 1828.1,1462.5 1831.1,1462.5 1834.1,1462.5 1837.1,1462.5 1840.1,1462.5 1843.1,1462.5 1846.1,1462.5 1849.1,1462.5 1852.1,1462.5 1855.1,1462.5 1858.1,1462.5 1861.1,1462.5 1864.1,1462.5 1867.1,1462.5 1870.1,1462.5 1873.1,1462.5 1876.1,1462.5 1879.1,1462.5 1882.1,1462.5 1885.1,1462.5 1888.1,1462.5 1891.1,1462.5 1894.1,1462.5 1897.1,1462.5 1900.1,1462.5 1903.1,1462.5 1906.1,1462.5 1909.1,1462.5 1912.1,1462.5 1915.1,1462.5 1918.1,1462.5 1921.1,1462.5 1924.1,1462.5 1927.1,1462.5 1930.1,1462.5 1933.1,1462.5 1936.1,1462.5 1939.1,1462.5 1942.1,1462.5 1945.1,1462.5 1948.1,1462.5 1951.1,1462.5 1954.1,1462.5 1957.1,1462.5 1960.1,1462.5 1963.1,1462.5 1966.1,1462.5 1969.1,1462.5 1972.1,1462.5 1975.1,1462.5 1978.1,1462.5 1981.1,1462.5 1984.1,1462.5 1987.1,1462.5 1990.1,1462.5 1993.1,1462.5 1996.1,1462.5 1999.1,1462.5 2002.1,1462.5 2005.1,1462.5 2008.1,1462.5 2011.1,1462.5 2014.1,1462.5 2017.1,1462.5 2020.1,1462.5 2023.1,1462.5 2026.1,1462.5 2029.1,1462.5 2032.1,1462.5 2035.1,1462.5 2038.1,1462.5 2041.1,1462.5 2044.1,1462.5 2047.1,1462.5 2050.1,1462.5 2053.1,1462.5 2056.1,1462.5 2059.1,1462.5 2062.1,1462.5 2065.1,1462.5 2068.1,1462.5 2071.1,1462.5 2074.1,1462.5 2077.1,1462.5 2080.1,1462.5 2083.1,1462.5 2086.1,1462.5 2089.1,1462.5 2092.1,1462.5 2095.1,1462.5 2098.1,1462.5 2101.1,1462.5 2104.1,1462.5 2107.1,1462.5 2110.1,1462.5 2113.1,1462.5 2116.1,1462.5 2119.1,1462.5 2122.1,1462.5 2125.1,1462.5 2128.1,1462.5 2131.1,1462.5 2134.1,1462.5 2137.1,1462.5 2140.1,1462.5 2143.1,1462.5 2146.1,1462.5 2149.1,1462.5 2152.1,1462.5 2155.1,1462.5 2158.1,1462.5 2161.1,1462.5 2164.1,1462.5 2167.1,1462.5 2170.1,1462.5 2173.1,1462.5 2176.1,1462.5 2179.1,1462.5 2182.1,1462.5 2185.1,1462.5 2188.1,1462.5 2191.1,1462.5 2194.1,1462.5 2197.1,1462.5 2200.1,1462.5 2203.1,1462.5 2206.1,1462.5 2209.1,1462.5 2212.1,1462.5 2214.9,1462.5 2217.3,1462.5 2219.1,1462.5 2219.1,1462.5" stroke="#2b6b6a"/>
</g>
<g font-family='"Liberation Sans", Arial, sans-serif' font-size="57" fill="#000" text-anchor="end">
<text x="237.6" y="1475.4">0</text>
<text x="237.6" y="1333.5">1</text>
<text x="237.6" y="1191.6">2</text>
<text x="237.6" y="1049.7">3</text>
<text x="237.6" y="907.8">4</text>
<text x="237.6" y="765.9">5</text>
<text x="237.6" y="624.0">6</text>
<text x="237.6" y="482.1">7</text>
<text x="237.6" y="340.2">8</text>
<text x="237.6" y="198.3">9</text>
<text x="237.6" y="56.4">10</text>
</g>
<g font-family='"Liberation Sans", Arial, sans-serif' font-size="57" fill="#000" text-anchor="middle">
<text x="287.5" y="1555.5">0.1</text>
<text x="736.6" y="1555.5">1</text>
<text x="1185.7" y="1555.5">10</text>
<text x="1634.8" y="1555.5">100</text>
<text x="2083.9" y="1555.5">1000</text>
</g>
<g font-family='"Liberation Sans", Arial, sans-serif' font-size="71" fill="#000"><text x="1108.5" y="1669.4">Size</text><text x="1263.7" y="1669.4">[</text><text font-family='"Liberation Serif", serif' font-size="61" transform="translate(1281.8,1669.4) scale(1.24,1)">&#956;</text><text x="1320.5" y="1669.4">m]</text></g>
<text font-family='"Liberation Sans", Arial, sans-serif' font-size="71" fill="#000" transform="translate(74.6,905.2) rotate(-90)">Volume [%]</text>
<path d="M1356.2,415.5H2218" stroke="#000" stroke-width="2.8" fill="none"/>
<path d="M2218,40.7V415.5" stroke="#000" stroke-width="4" fill="none"/>
<path d="M1378.4,92.6H1542" stroke="#000000" stroke-width="5" fill="none"/>
<path d="M1378.4,179.75H1542" stroke="#d0121a" stroke-width="5" fill="none"/>
<path d="M1378.4,264.3H1542" stroke="#1a0f8c" stroke-width="5" fill="none"/>
<path d="M1378.4,351.5H1542" stroke="#2b6b6a" stroke-width="5" fill="none"/>
<g font-family='"Liberation Sans", Arial, sans-serif' font-size="71" fill="#000">
<text x="1557" y="117.3">Sodium naproxen</text>
<text x="1557" y="203">Magnesium stearate</text>
<text x="1557" y="288">Cellulose</text>
<text x="1557" y="375">CaCO<tspan font-size="40" dy="27">3</tspan></text>
</g>
</svg></body></html>
